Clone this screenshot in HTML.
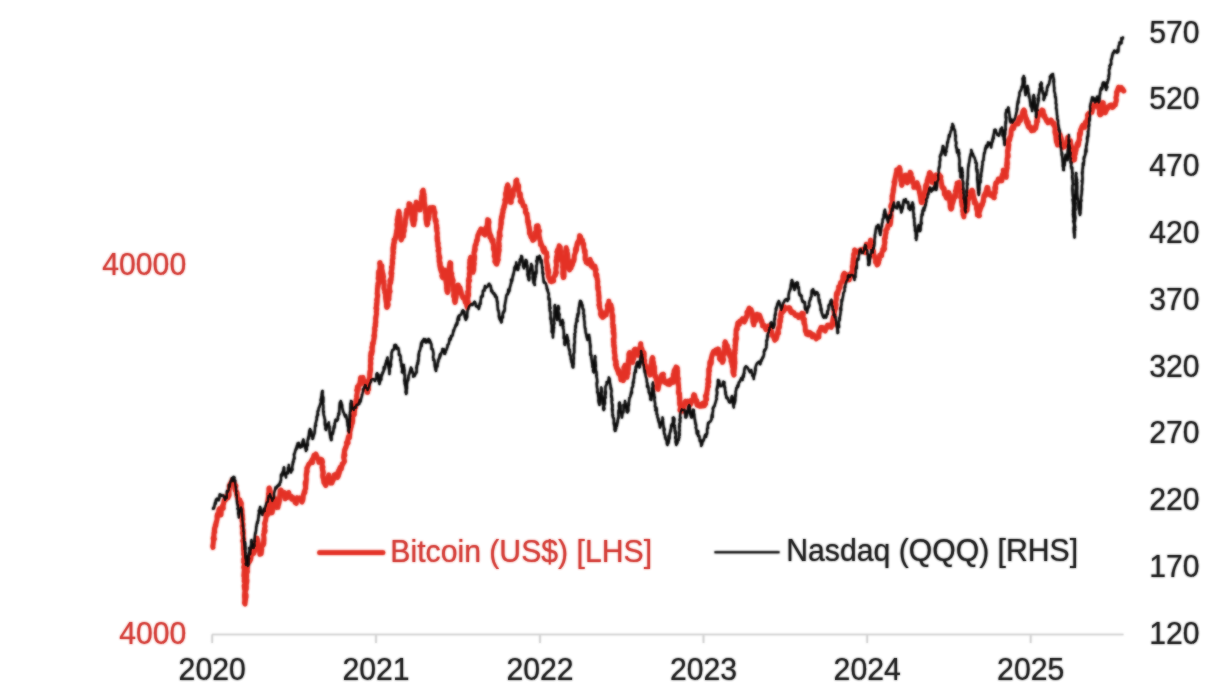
<!DOCTYPE html>
<html><head><meta charset="utf-8"><title>Bitcoin vs Nasdaq</title>
<style>
html,body{margin:0;padding:0;background:#fff;}
body{width:1232px;height:694px;overflow:hidden;font-family:"Liberation Sans",sans-serif;}
svg{display:block;}
text{font-family:"Liberation Sans",sans-serif;font-size:30.2px;}
</style></head><body>
<svg width="1232" height="694" viewBox="0 0 1232 694">
<defs>
<filter id="b" x="-2%" y="-2%" width="104%" height="104%"><feGaussianBlur stdDeviation="0.8"/></filter>
<g id="ln">
<g stroke="#d2d2d2" stroke-width="1.7" fill="none">
<line x1="212" y1="634.5" x2="1123.5" y2="634.5"/>
<line x1="212.2" y1="634.5" x2="212.2" y2="643"/>
<line x1="376" y1="634.5" x2="376" y2="643"/>
<line x1="540" y1="634.5" x2="540" y2="643"/>
<line x1="703.5" y1="634.5" x2="703.5" y2="643"/>
<line x1="867.2" y1="634.5" x2="867.2" y2="643"/>
<line x1="1030.7" y1="634.5" x2="1030.7" y2="643"/>
</g>
<polyline fill="none" stroke="#e43125" stroke-width="4.7" stroke-linejoin="round" stroke-linecap="round" points="213.0,547.5 212.7,546.0 212.7,545.9 213.1,544.8 213.4,541.3 213.4,539.4 213.1,538.3 214.1,539.4 213.5,537.1 214.4,538.8 213.9,538.0 213.6,539.4 214.0,538.2 213.9,532.9 214.8,532.1 214.6,530.4 214.5,531.8 214.2,530.8 214.5,528.0 214.8,528.8 215.0,527.5 215.3,526.0 215.2,525.1 215.9,525.7 216.0,522.3 216.5,522.3 216.1,522.7 216.1,523.4 217.1,519.4 217.0,516.2 217.4,514.1 217.5,517.1 217.4,517.5 218.0,515.6 218.0,513.7 218.8,513.5 218.7,511.2 218.8,510.0 219.4,508.8 220.2,512.4 219.9,515.0 220.7,513.8 221.0,515.0 221.2,512.4 221.0,511.0 222.0,508.9 221.6,508.0 222.6,508.6 222.3,506.0 223.0,507.5 223.3,508.5 223.0,504.7 223.7,503.8 223.1,504.9 223.8,502.5 224.1,500.6 225.0,499.0 225.4,500.2 226.2,496.3 227.0,497.3 227.5,497.5 228.0,497.8 228.2,495.8 227.8,495.5 228.9,495.9 229.2,495.0 229.0,491.2 229.5,487.9 229.2,486.1 229.5,485.8 229.7,485.8 230.1,483.7 230.6,483.4 231.0,484.0 232.1,479.9 232.0,482.5 232.9,480.3 233.8,481.0 233.6,481.5 234.8,484.3 234.4,484.2 234.2,482.8 234.7,484.7 234.8,488.8 235.9,485.7 235.2,488.9 235.3,490.5 236.6,491.5 236.6,494.5 236.4,492.4 237.1,492.6 237.4,495.3 236.9,495.9 237.5,497.5 238.6,499.6 239.0,501.6 239.5,502.4 239.9,499.7 239.9,500.8 241.0,502.5 240.8,502.1 241.4,503.3 241.2,507.2 241.9,509.1 241.2,510.7 241.1,507.5 241.2,507.5 242.1,510.8 241.7,513.6 242.1,513.8 242.0,511.3 242.2,516.5 241.9,517.4 242.4,515.0 242.5,516.2 242.1,520.6 242.8,519.4 242.0,521.3 242.0,520.6 242.5,522.5 242.9,524.3 243.0,523.7 242.8,526.9 242.7,526.3 242.1,526.0 242.9,530.3 243.3,530.1 243.3,530.4 242.5,533.4 242.7,531.5 243.0,531.9 242.9,532.9 243.5,533.2 243.0,535.3 243.6,537.9 243.6,538.3 243.2,539.7 242.7,540.9 242.9,541.4 243.7,539.8 243.3,541.3 243.5,545.6 243.5,545.0 243.8,547.0 243.6,545.5 243.3,546.9 243.6,551.1 243.9,551.5 243.6,554.2 243.7,553.9 244.0,554.2 243.8,554.8 244.3,555.8 244.3,557.6 243.6,559.3 244.5,559.4 244.0,560.0 243.6,561.9 244.0,561.2 243.8,561.5 244.3,562.2 244.6,565.7 244.4,564.7 243.7,567.4 244.7,569.9 244.7,568.0 244.2,569.2 244.6,573.6 244.2,570.6 244.1,572.8 244.1,572.2 243.8,575.9 244.3,576.5 244.2,574.3 244.4,578.2 245.0,576.5 245.0,581.2 244.2,578.9 244.8,578.9 244.1,581.0 245.0,583.1 244.3,586.7 245.1,584.3 244.8,587.1 244.1,585.6 244.6,589.6 245.2,587.6 245.1,591.3 245.1,589.6 245.2,590.0 244.6,593.2 245.3,595.1 244.4,594.9 244.5,596.9 244.5,596.4 244.5,597.0 244.7,599.0 244.7,601.6 244.6,602.1 244.4,602.7 245.0,604.0 244.5,602.2 245.2,602.6 245.2,599.8 244.8,602.0 245.3,601.3 245.8,598.4 245.5,596.5 246.1,597.0 246.0,594.3 245.8,595.1 245.6,592.7 245.4,589.3 246.2,587.9 245.6,587.9 246.4,586.5 246.3,589.2 245.9,586.4 246.2,585.3 246.3,585.0 246.3,582.9 246.9,581.9 246.5,583.6 247.0,580.2 246.4,578.8 246.5,575.8 246.7,577.2 246.7,575.1 246.5,572.7 246.7,571.9 246.3,570.7 246.6,571.2 247.0,572.1 247.2,572.5 247.5,571.6 246.9,568.7 246.8,570.8 247.4,568.7 247.7,564.2 247.5,566.2 247.8,565.0 247.5,562.2 247.5,562.0 248.6,560.9 249.3,562.1 250.1,560.4 250.5,559.9 251.0,558.0 251.0,556.0 251.8,553.6 252.9,552.2 253.1,553.8 253.7,553.5 254.0,552.0 253.6,551.0 254.7,551.3 254.7,549.3 254.4,549.0 254.8,548.6 255.0,543.8 255.2,545.9 256.3,545.6 255.8,543.3 256.4,541.9 256.5,542.4 256.1,540.8 256.5,538.0 257.0,538.0 257.0,539.5 256.8,540.4 257.3,539.0 257.9,542.5 257.6,544.1 258.0,544.3 257.8,544.9 258.1,548.3 259.1,550.3 258.7,545.8 259.5,550.4 258.8,550.0 259.8,549.6 259.5,550.6 259.7,551.7 259.8,554.0 259.8,554.4 260.6,554.1 261.2,553.7 261.8,549.0 261.2,548.7 262.1,545.0 262.3,546.2 262.7,544.6 263.3,545.0 263.8,543.3 263.8,541.2 263.1,542.9 263.9,543.1 263.5,542.5 263.7,538.8 264.0,540.9 263.9,536.8 263.5,534.6 264.5,532.4 264.7,532.2 264.0,531.2 264.0,531.7 265.0,530.2 264.9,532.1 265.1,530.2 264.8,530.8 264.3,528.8 264.8,527.5 265.1,526.4 264.5,523.4 264.7,524.3 265.0,522.1 265.3,521.0 265.8,519.3 265.4,521.2 265.7,519.4 266.0,517.6 266.0,514.2 267.0,512.9 266.4,513.6 267.6,515.0 266.8,512.1 267.4,511.0 267.0,509.2 267.1,508.3 267.4,506.8 268.2,507.0 267.7,507.3 267.9,504.8 267.8,503.2 267.8,500.3 267.8,504.2 268.4,501.5 268.0,502.2 268.2,498.1 268.5,497.2 269.0,499.5 268.2,498.7 269.0,492.8 268.8,495.9 268.4,493.8 269.5,491.6 269.5,492.2 268.9,491.8 268.9,488.2 269.4,488.0 269.7,488.9 269.8,491.4 270.0,491.9 269.8,492.0 270.1,490.7 270.4,492.0 269.8,495.4 269.8,493.9 270.4,497.4 269.7,495.8 270.4,498.7 270.1,499.3 269.9,501.5 270.5,500.9 270.8,505.5 270.7,506.8 270.5,504.0 271.1,508.5 270.4,506.4 271.3,507.9 270.9,508.6 271.7,510.6 270.8,510.2 271.3,511.4 271.5,513.0 271.4,512.4 272.3,512.4 272.0,510.4 272.4,511.8 272.5,510.5 273.4,505.9 273.9,504.6 273.3,504.7 273.8,502.3 274.7,503.6 274.3,500.6 275.3,499.9 275.0,500.0 274.9,499.3 275.6,498.9 276.6,504.5 277.1,505.5 276.7,507.6 277.8,504.4 277.1,507.4 278.0,507.5 278.0,507.1 278.2,505.1 278.0,502.8 278.5,501.8 278.4,504.7 278.7,504.5 279.6,500.1 279.3,501.1 279.6,496.0 280.2,496.0 279.8,494.1 279.6,497.1 280.7,494.0 279.9,494.3 280.1,490.5 280.5,492.0 281.0,490.0 282.0,492.2 281.7,491.3 282.6,495.4 283.2,492.9 283.2,493.4 284.3,492.5 284.7,497.8 285.0,497.5 285.1,498.9 286.2,494.9 287.4,497.5 287.2,494.0 288.1,493.0 288.8,492.5 289.0,494.8 290.2,496.1 290.8,497.6 290.8,497.2 291.4,496.2 291.7,499.4 293.0,497.4 292.8,498.0 293.9,498.2 295.0,500.6 295.0,502.5 296.3,503.4 296.0,500.1 297.2,497.8 297.9,500.3 298.8,499.0 299.6,498.1 300.8,500.4 302.0,502.0 302.5,501.0 302.3,500.7 302.7,500.8 303.0,498.8 303.1,498.6 303.3,494.8 304.3,492.7 303.9,494.0 304.9,492.4 304.2,491.9 304.9,492.0 305.0,490.0 304.7,490.5 305.6,488.2 305.8,488.4 305.2,484.1 305.2,482.4 305.8,486.1 305.6,485.8 305.9,484.6 306.3,479.9 305.7,482.2 306.4,479.8 306.2,476.3 306.1,474.3 306.7,473.8 306.4,475.2 306.6,470.9 306.6,473.1 306.7,470.8 307.2,471.6 306.8,468.2 307.4,468.0 307.5,467.5 307.6,467.1 308.9,464.0 309.0,464.1 310.4,462.9 310.5,462.3 311.0,462.5 311.4,460.8 312.6,462.5 312.2,459.3 312.7,460.0 314.0,455.2 314.4,455.9 314.9,455.4 315.0,455.0 315.1,455.7 316.0,454.0 316.9,458.1 317.0,456.4 317.3,458.5 317.6,458.4 318.8,461.3 318.8,462.5 319.6,459.6 320.9,462.6 320.8,459.1 322.0,460.0 322.6,462.1 321.6,462.3 322.1,464.9 322.5,466.4 322.0,467.4 322.2,468.3 323.0,467.0 322.3,470.1 322.6,467.9 322.7,470.1 322.6,469.0 323.4,473.1 323.1,470.8 322.6,475.3 322.8,477.5 323.3,477.4 323.1,478.3 323.5,478.2 323.7,479.1 323.5,480.2 323.8,480.1 323.8,482.5 324.2,482.7 325.6,485.6 326.0,485.0 325.9,484.0 326.1,482.9 326.7,479.8 327.0,478.2 326.8,479.5 327.2,479.7 328.2,479.5 327.7,477.3 328.3,476.1 328.8,475.0 328.7,478.0 330.0,479.8 330.1,480.1 330.6,477.9 330.9,480.0 330.3,483.1 331.0,482.5 332.0,483.0 331.8,478.6 332.1,480.8 332.7,481.3 333.1,480.2 334.5,477.3 334.2,474.9 335.0,475.0 335.6,475.5 336.3,473.9 337.5,477.5 338.3,475.0 338.5,476.0 338.6,472.7 338.5,470.9 338.6,472.8 339.1,473.8 339.7,471.4 340.1,467.7 339.6,468.7 340.0,467.5 340.4,468.1 341.3,469.1 342.2,464.8 342.1,463.8 342.6,464.4 343.8,462.5 343.6,462.7 344.5,461.4 344.3,460.1 343.6,457.4 343.9,454.4 344.3,456.3 344.9,455.3 344.3,452.0 344.1,453.6 344.6,449.9 344.7,449.4 345.0,450.0 345.5,447.4 345.4,447.9 346.0,447.5 346.9,443.7 346.4,442.7 347.3,441.6 347.5,442.5 348.1,442.9 347.7,440.2 348.4,436.6 348.3,438.3 348.8,437.5 348.9,437.0 349.5,437.8 349.9,433.6 349.7,430.6 349.6,431.4 350.4,428.7 350.4,427.1 350.1,431.1 350.9,427.7 351.0,427.5 351.4,426.3 351.1,426.8 351.5,423.6 352.4,420.5 352.4,423.4 352.8,418.6 352.6,421.1 352.8,420.8 352.6,416.9 352.8,415.7 353.8,415.3 353.8,415.0 354.3,414.5 353.8,414.0 354.1,412.5 354.4,412.8 354.7,409.0 354.3,411.5 354.2,410.7 354.6,406.1 355.6,407.3 355.1,406.7 355.2,406.6 356.0,402.1 355.9,402.4 356.4,401.6 356.0,400.0 356.6,399.0 356.8,398.8 356.8,396.9 356.5,396.4 357.1,393.4 357.6,391.2 356.7,390.3 358.0,389.2 357.2,389.5 357.3,386.9 358.2,389.5 358.5,389.1 358.5,385.4 358.9,385.3 358.8,385.0 359.7,385.1 360.1,381.0 360.7,384.2 360.3,379.3 360.6,377.6 361.9,380.9 362.4,379.2 362.5,377.5 362.8,379.3 363.0,377.3 363.7,381.6 364.4,380.8 365.0,382.5 365.0,381.7 365.7,382.9 365.5,384.3 366.0,389.0 366.4,390.1 366.4,386.3 367.1,388.7 367.2,389.6 366.9,391.5 367.5,392.5 367.2,392.5 367.4,391.9 367.6,387.5 368.6,389.4 368.2,384.6 368.7,385.7 368.5,383.3 369.1,383.0 369.3,381.6 368.6,380.6 369.1,382.0 369.4,378.0 369.7,376.4 369.9,378.5 369.5,377.6 369.7,375.8 370.0,375.0 369.6,375.1 369.6,374.6 369.9,371.1 370.2,372.8 370.7,369.7 370.3,367.4 370.6,367.9 370.6,368.5 370.3,365.4 370.9,362.9 370.8,364.5 370.5,361.2 370.7,363.2 370.7,359.0 370.4,361.8 370.6,357.8 371.2,358.7 370.5,355.9 370.8,355.1 371.0,355.0 370.8,353.9 371.0,352.3 371.8,354.2 372.3,349.2 371.8,347.3 372.4,351.3 372.2,349.8 372.6,345.6 372.3,343.4 372.3,343.8 373.4,343.2 373.2,343.8 373.3,342.7 373.7,340.0 373.8,340.0 374.1,338.6 373.8,339.2 374.3,337.5 373.8,335.8 374.6,336.0 374.5,335.7 374.6,335.4 374.4,333.3 374.7,330.2 374.6,327.5 375.0,330.2 374.5,329.0 374.9,326.7 374.9,326.7 375.6,326.2 375.4,322.4 375.1,324.3 375.9,322.2 375.5,318.3 375.9,317.5 375.6,321.0 375.8,316.3 376.1,316.9 376.1,316.0 376.0,316.2 376.6,313.9 376.4,312.2 376.2,312.0 376.6,310.6 376.9,308.7 375.9,308.2 376.4,306.9 376.5,304.4 376.9,305.0 376.4,303.9 377.0,302.2 376.9,305.2 377.2,300.8 376.6,300.1 377.3,297.6 377.2,300.4 377.2,298.1 377.8,295.4 377.4,294.8 377.7,296.6 377.2,294.1 377.1,293.3 377.4,294.0 377.3,293.2 377.4,289.8 377.4,288.7 378.1,286.1 377.6,286.0 377.9,285.3 378.0,285.0 378.2,283.6 378.0,283.4 378.7,283.8 378.7,279.2 378.8,281.7 378.9,277.1 378.1,278.3 379.2,274.0 378.5,276.2 378.5,272.5 379.3,271.7 378.7,271.4 379.5,273.8 379.7,269.1 379.7,270.0 379.9,269.7 379.9,269.4 379.9,265.5 380.0,265.5 380.3,264.3 379.6,263.6 380.0,262.5 379.8,262.6 380.0,264.2 380.3,265.2 381.0,266.4 381.7,267.7 381.9,265.6 381.8,268.7 382.4,271.2 382.2,271.2 382.5,272.5 382.1,274.8 382.9,275.4 383.0,273.6 383.5,277.2 383.6,276.8 383.2,278.6 382.8,282.0 383.6,282.5 384.0,281.2 383.6,281.9 384.1,283.8 383.8,283.1 384.1,285.1 383.9,288.3 384.2,289.4 384.1,289.2 384.5,290.0 385.2,291.1 385.1,292.7 384.7,292.4 385.2,292.9 385.6,295.7 385.6,293.6 385.6,299.0 385.4,295.9 385.5,295.9 386.1,302.1 386.5,302.6 386.4,305.0 386.6,304.5 386.7,305.5 386.4,306.3 386.8,307.1 387.0,307.5 386.7,307.4 386.8,304.5 388.0,305.6 387.5,304.7 388.2,304.6 387.7,302.3 388.1,299.5 388.3,298.2 389.0,299.1 388.7,295.0 388.4,293.3 389.1,296.5 389.1,296.3 389.2,292.3 389.5,292.5 390.1,291.5 389.7,292.3 389.4,289.5 389.6,289.2 389.5,285.5 390.3,283.0 390.8,282.4 390.7,281.3 389.9,280.5 390.2,282.9 390.3,282.7 391.1,277.8 391.2,279.9 390.5,279.3 391.3,277.7 391.6,276.0 391.2,275.0 391.9,273.4 390.8,273.5 391.7,270.4 391.1,271.8 391.9,269.3 392.1,267.2 391.3,267.4 392.0,266.0 392.2,265.3 392.4,262.6 392.3,262.6 392.1,263.3 392.6,261.2 392.7,263.3 392.2,260.7 393.0,256.3 393.0,258.4 392.8,255.9 393.1,258.3 392.6,255.8 393.3,253.5 393.2,251.9 393.5,252.1 392.9,252.5 392.9,247.3 393.4,247.8 393.8,248.8 393.8,245.0 393.9,246.3 393.3,244.9 394.0,244.5 393.8,242.5 394.6,242.5 394.0,239.8 395.2,239.5 395.5,236.5 395.2,239.3 396.1,236.8 396.2,235.0 396.0,234.0 396.7,232.2 396.5,232.9 397.0,229.4 396.5,231.0 397.3,229.7 397.0,230.4 397.2,227.3 396.8,224.2 397.5,222.8 397.5,222.7 397.5,222.2 397.1,219.8 397.6,223.5 398.0,218.2 397.5,220.3 397.8,218.8 397.6,217.3 398.8,213.7 398.3,216.2 398.2,214.5 398.5,214.0 399.0,213.4 398.8,211.0 399.4,213.1 398.4,212.5 398.6,212.8 398.6,213.0 399.6,215.8 399.8,216.7 398.9,220.2 399.3,220.0 400.1,218.0 399.7,219.2 400.2,222.5 399.7,224.1 399.5,223.9 400.5,227.7 399.5,224.9 400.0,225.3 400.7,230.0 399.8,231.4 400.6,232.2 401.0,232.3 400.2,229.6 401.2,234.0 400.5,235.1 401.1,235.6 400.7,234.5 400.6,235.9 400.7,237.7 400.8,238.3 401.2,240.0 401.0,239.4 401.6,239.3 402.8,234.3 403.2,233.6 403.5,236.4 403.3,232.3 403.8,232.5 404.4,230.2 404.2,231.3 404.0,229.4 404.3,229.9 404.1,228.4 404.1,225.0 404.8,226.3 405.4,222.4 405.0,221.5 405.0,219.9 405.2,222.8 405.5,218.6 406.1,217.8 406.4,215.6 406.4,214.0 405.8,216.5 406.0,215.1 406.1,212.9 407.1,212.3 407.2,213.6 406.6,210.2 407.0,210.0 407.0,210.5 407.8,209.7 407.9,210.2 408.8,208.4 408.9,203.7 410.0,204.0 410.2,205.8 410.3,205.1 410.2,208.5 410.3,208.7 411.2,207.4 410.7,210.9 410.8,208.7 411.4,212.2 411.3,211.7 412.0,214.4 412.1,216.9 411.6,214.6 412.2,218.1 412.0,219.5 412.5,221.1 413.3,222.3 412.5,221.4 413.2,223.8 413.1,224.6 414.0,223.4 413.8,225.0 413.5,223.5 414.1,222.4 414.1,219.8 414.2,220.2 414.6,217.7 414.9,220.2 414.8,217.1 414.9,216.0 415.2,213.0 414.9,216.9 415.0,214.3 414.6,213.0 414.9,214.5 414.9,209.4 415.8,207.9 415.1,205.5 415.3,208.1 415.9,204.4 415.9,205.5 415.6,205.2 416.4,204.6 416.2,202.5 416.2,202.0 417.1,203.9 417.0,203.9 417.5,205.4 418.7,207.6 418.8,206.2 418.7,209.8 419.5,210.0 420.2,210.0 419.8,207.9 420.1,208.4 420.8,205.8 420.3,206.5 420.4,202.8 421.4,202.4 421.5,203.7 421.6,203.2 421.4,197.8 422.1,201.3 421.7,197.0 421.8,197.6 421.6,196.3 422.3,194.7 422.1,191.5 423.0,194.6 423.0,193.8 423.5,192.2 423.2,190.0 422.8,192.4 423.2,192.9 423.3,194.1 424.1,194.6 423.5,196.0 423.8,196.5 423.7,199.9 424.2,197.6 424.3,196.9 424.3,202.5 424.3,200.4 424.1,202.4 424.2,201.3 424.6,203.1 424.5,204.4 425.0,205.1 425.0,207.5 425.2,209.3 425.4,210.0 425.6,209.3 425.5,211.1 425.6,213.2 425.4,212.7 425.8,212.9 426.0,214.7 425.9,213.7 425.9,219.3 426.3,219.5 427.0,218.7 426.8,219.5 426.1,220.1 426.7,224.1 426.8,222.9 427.0,225.0 427.4,223.6 427.0,221.4 427.8,223.7 427.5,219.4 428.1,218.7 428.5,219.3 428.3,219.8 428.7,218.6 428.6,217.6 429.0,216.8 428.5,216.5 428.5,215.4 429.4,213.6 430.0,210.9 429.6,209.9 430.3,209.4 430.0,207.5 431.1,208.5 432.5,207.4 433.8,207.5 433.7,209.3 434.1,209.3 434.0,209.9 434.8,213.2 434.5,213.0 434.5,212.0 435.0,212.3 434.6,215.8 435.0,219.3 435.8,219.8 435.2,220.7 435.8,220.0 436.3,221.1 435.4,220.4 436.0,222.9 436.4,225.8 436.8,225.6 436.3,226.2 436.3,228.1 436.6,227.4 437.1,228.0 436.7,230.8 436.6,228.8 436.9,231.0 437.4,233.2 437.0,236.8 437.2,235.2 437.0,239.0 437.6,237.8 437.2,236.2 437.8,241.3 437.1,240.5 437.9,242.8 438.3,243.5 437.7,244.5 437.7,243.3 438.0,245.0 438.1,245.9 437.8,245.9 438.4,248.3 439.0,248.3 438.0,250.6 438.9,250.6 438.9,250.8 438.6,249.8 439.0,255.4 438.7,256.3 439.2,256.2 439.4,255.7 439.9,257.9 439.3,259.4 439.1,257.9 439.1,261.9 439.3,260.5 440.2,262.8 440.3,264.3 440.0,265.0 439.6,264.7 440.2,267.9 440.5,269.6 440.6,267.5 441.5,267.5 441.1,271.2 441.3,272.0 442.1,270.7 442.4,274.3 442.2,275.1 441.8,275.6 442.5,277.5 443.3,278.0 443.7,274.7 443.3,276.0 444.5,274.2 444.8,272.3 444.5,270.0 445.0,270.0 444.8,271.5 445.7,271.5 445.7,272.9 445.1,272.8 445.2,274.1 445.4,278.7 445.4,278.0 445.8,278.6 445.5,278.7 446.5,277.9 446.0,279.9 446.1,280.2 445.9,281.3 446.4,284.9 446.9,283.4 446.6,283.6 446.5,288.7 447.4,288.4 446.8,290.7 447.5,290.2 447.9,291.1 447.5,292.5 448.1,290.7 447.4,290.3 447.3,289.3 447.6,289.3 448.0,289.5 447.7,286.3 447.8,286.0 447.7,286.8 448.3,284.0 448.6,281.3 448.6,280.6 448.3,280.7 448.1,278.9 449.1,276.5 448.9,276.0 448.9,273.9 448.9,274.2 448.5,273.0 448.8,272.1 449.4,270.0 449.1,269.7 449.6,272.6 449.8,272.0 449.2,267.1 449.8,265.1 449.5,266.7 449.9,265.2 449.5,265.1 449.7,264.5 450.0,262.5 449.8,264.1 450.8,263.3 450.7,266.4 450.1,264.3 450.4,265.2 450.7,267.0 450.8,266.7 450.8,270.9 451.4,273.8 451.2,274.5 451.8,273.8 451.2,274.0 452.2,277.6 451.5,276.2 452.3,279.2 452.1,277.8 452.5,280.0 452.9,279.7 453.2,280.7 452.4,283.8 452.8,285.2 453.4,286.7 452.7,285.2 453.2,289.6 453.6,291.2 453.9,291.2 453.6,291.4 454.0,288.9 453.9,291.4 453.5,295.6 453.6,296.3 454.6,296.9 454.4,295.3 454.6,299.7 454.3,299.0 454.5,297.7 454.4,299.9 454.5,300.9 455.0,302.5 455.3,301.9 455.0,299.6 455.4,299.3 455.4,300.8 456.2,296.7 456.0,294.1 456.4,293.9 456.5,294.3 456.5,291.3 456.4,292.4 457.0,292.8 456.5,288.2 456.6,288.0 456.8,285.8 457.4,285.5 456.9,285.6 457.5,285.0 457.9,285.1 458.1,285.9 458.3,285.1 459.7,291.1 460.1,287.7 460.4,293.0 460.8,290.4 461.2,292.5 461.4,292.9 461.6,294.5 462.8,297.8 463.6,297.5 463.3,298.3 463.6,296.9 464.8,297.1 465.0,300.0 465.1,302.1 465.9,300.6 466.6,304.9 466.8,302.7 467.1,307.0 466.8,305.9 467.5,307.5 467.3,307.3 467.7,305.3 468.0,303.9 467.2,302.2 467.9,302.5 468.0,303.3 468.4,303.3 467.9,300.0 467.7,296.6 467.5,297.6 467.7,297.6 468.6,295.4 467.6,292.1 467.8,292.7 467.7,293.6 468.7,293.7 468.3,292.6 468.6,288.7 468.4,288.4 468.4,286.7 468.9,287.1 468.2,287.1 468.6,284.1 468.5,283.6 468.8,282.5 468.3,280.7 468.8,279.7 469.4,281.1 469.6,280.5 469.2,280.3 468.7,278.9 469.4,277.0 469.4,273.6 469.4,276.0 469.2,273.9 470.0,270.9 469.2,267.6 469.6,270.0 469.9,266.2 469.9,266.3 469.9,265.8 469.8,265.7 469.6,262.3 470.1,265.3 470.6,260.9 469.8,260.1 470.0,260.4 470.4,259.4 470.5,257.8 470.5,257.5 470.7,257.2 470.4,259.5 470.5,260.0 471.6,261.0 471.6,262.7 471.1,265.1 471.9,267.7 472.2,263.8 471.6,265.5 472.2,270.0 471.9,270.6 472.0,271.2 472.5,269.7 472.9,269.9 473.0,272.5 472.8,270.5 473.1,270.9 473.4,271.1 473.4,270.5 473.8,270.0 473.8,265.2 473.9,264.3 474.0,265.3 473.6,261.4 474.3,263.5 473.4,263.0 473.5,261.4 474.4,260.0 474.6,256.3 473.9,258.1 474.2,254.8 474.5,257.2 473.9,252.6 474.9,251.0 474.7,250.5 474.9,250.2 474.4,249.8 474.9,250.6 475.3,249.2 475.0,247.5 474.7,248.3 475.1,245.2 476.2,244.4 475.5,245.3 476.6,241.0 476.4,242.3 476.4,240.5 476.9,241.2 477.4,240.1 477.5,237.5 477.8,235.3 478.9,233.6 478.4,234.8 479.2,231.8 479.9,232.2 480.1,231.1 480.9,228.9 481.2,230.0 481.3,229.6 483.1,231.1 482.7,229.7 483.5,233.8 484.4,233.2 485.0,235.0 485.3,233.1 485.9,232.9 485.1,234.4 486.1,231.9 486.3,232.4 486.4,230.3 486.1,227.4 487.0,228.6 487.0,228.9 487.3,224.4 487.2,225.3 487.2,223.9 487.5,222.3 487.6,219.7 488.0,220.0 488.7,220.3 488.1,221.8 488.0,221.8 488.1,223.0 489.0,222.0 488.6,225.3 488.6,227.4 488.4,226.3 488.8,227.7 489.2,231.3 489.1,234.1 489.5,235.4 489.2,231.6 490.2,234.5 490.1,234.9 490.3,236.2 490.0,237.5 491.0,235.7 491.7,241.0 493.0,240.0 492.6,240.5 493.0,240.8 493.0,243.6 493.1,243.7 494.0,245.6 493.3,247.1 494.3,248.7 493.4,249.1 494.5,251.2 493.7,249.7 494.3,249.3 494.5,254.1 494.1,256.1 494.9,253.9 494.6,256.1 494.6,257.6 494.8,255.2 495.2,255.9 495.2,258.3 495.0,260.6 494.8,261.4 495.5,262.5 496.4,264.1 496.7,264.2 498.0,260.0 498.3,259.6 497.7,257.6 497.8,255.7 497.8,256.8 498.2,256.6 498.5,254.5 498.6,253.4 498.3,252.7 498.3,252.6 499.0,251.6 498.5,250.9 499.3,250.0 498.6,247.1 499.4,246.2 498.4,242.9 499.2,243.4 499.0,244.5 498.9,245.2 498.8,243.1 498.9,237.7 499.4,235.9 499.1,237.7 499.4,239.4 499.2,234.7 500.2,235.8 499.2,232.8 499.5,233.8 499.9,233.6 499.8,231.6 500.0,230.0 500.1,230.0 500.8,227.5 500.7,225.0 500.8,223.0 501.2,223.7 501.0,221.0 501.5,221.7 501.3,224.2 501.0,219.6 501.4,218.1 501.3,216.8 501.9,218.8 502.5,215.7 502.1,214.1 502.6,213.0 502.1,214.4 502.5,212.5 503.1,212.6 502.8,209.7 503.7,209.2 503.7,206.5 503.7,207.7 504.4,207.0 504.7,203.9 504.8,203.5 504.4,204.6 505.0,202.5 505.7,202.7 504.7,200.0 506.0,197.5 506.1,195.2 506.0,194.6 505.5,193.4 505.6,195.8 506.7,193.4 506.8,194.3 505.9,195.3 507.0,190.2 506.2,191.1 506.6,189.3 506.6,187.8 507.8,185.2 507.8,185.2 507.5,185.0 507.7,184.8 507.8,185.3 508.2,186.2 508.5,186.7 507.9,189.6 508.6,190.2 508.6,194.5 509.4,192.0 509.4,196.3 508.9,194.4 508.9,194.8 509.6,194.3 509.9,197.3 509.4,198.6 510.3,201.0 510.4,201.7 510.5,202.5 511.3,202.1 511.3,202.3 511.1,199.3 512.1,197.8 511.7,196.5 511.7,195.6 511.8,198.0 513.2,195.4 513.1,191.9 512.9,191.3 513.0,189.9 513.8,190.0 514.4,190.0 513.8,190.3 514.4,188.7 515.0,187.2 515.8,184.2 515.8,180.9 515.9,184.5 516.7,182.7 516.6,180.2 516.8,180.0 516.8,181.7 517.0,183.2 517.5,183.6 517.4,185.3 517.8,186.2 518.1,184.8 518.7,185.6 518.7,187.8 518.6,189.4 518.4,189.2 519.1,192.7 519.2,192.5 519.5,193.8 519.4,196.2 520.4,194.0 520.4,196.0 521.0,199.3 520.2,201.0 521.4,199.3 520.8,202.1 521.2,200.5 521.8,202.5 522.2,201.2 523.1,205.8 523.2,205.5 524.9,206.0 525.0,207.5 525.2,209.1 525.8,209.6 525.3,212.0 525.8,212.9 525.9,212.9 526.3,212.8 526.2,213.7 527.1,213.9 526.9,214.7 527.5,217.5 527.4,218.9 527.6,219.0 527.6,222.0 528.6,222.7 528.3,221.1 528.7,225.1 528.2,224.2 528.8,225.3 528.9,227.9 529.4,227.5 529.3,230.6 529.7,229.5 529.4,233.2 530.2,234.5 530.3,232.9 529.8,233.5 530.5,235.0 531.0,237.1 531.8,237.4 532.7,240.4 533.2,237.0 533.8,240.0 534.0,238.6 534.2,239.3 535.0,237.2 534.8,235.7 535.5,235.0 535.6,235.0 535.1,232.6 536.0,233.0 536.5,232.8 536.1,228.1 537.1,226.5 536.5,225.9 537.3,227.5 537.5,226.0 537.9,225.7 537.8,228.5 538.3,226.8 538.3,229.0 538.8,233.7 538.2,234.7 538.8,232.6 539.5,231.0 538.8,233.1 539.0,234.5 539.5,238.6 539.6,238.3 539.6,237.6 540.0,240.0 540.7,242.2 540.4,244.6 540.6,241.9 541.3,244.2 541.8,245.1 542.0,246.7 542.5,247.5 542.8,249.8 543.8,252.0 544.2,247.9 544.9,250.6 545.4,251.9 546.2,252.5 546.7,252.9 546.7,253.7 546.7,256.5 547.2,256.5 547.2,257.2 546.8,256.0 546.4,259.8 546.6,262.7 546.8,262.5 547.3,265.2 547.3,265.8 547.7,266.0 547.2,264.6 547.2,268.3 547.4,270.3 547.4,266.7 548.5,270.8 548.2,270.3 548.6,270.1 547.9,273.2 548.6,271.7 548.8,272.4 548.2,274.5 548.4,276.6 548.8,277.5 549.3,278.5 550.4,281.3 551.2,281.8 552.5,280.0 553.7,280.9 553.2,277.8 554.5,276.3 555.0,274.5 555.5,275.0 555.5,272.8 555.6,273.4 555.3,272.8 555.4,272.6 556.5,272.5 556.0,272.0 555.9,267.4 556.1,268.4 555.8,268.8 556.7,265.5 556.4,264.7 556.0,260.7 557.0,260.2 556.3,262.7 556.2,262.8 557.3,260.1 557.4,257.3 556.4,257.8 557.0,255.2 557.4,253.6 557.5,252.3 556.8,251.9 556.9,252.0 557.8,251.1 557.5,250.0 558.3,249.8 559.2,245.7 560.0,247.5 560.3,247.2 560.3,248.1 560.2,249.7 560.1,252.0 561.1,251.1 561.1,252.3 560.9,256.3 560.5,253.8 560.7,258.4 561.3,257.9 561.3,256.3 561.5,257.1 561.5,260.1 561.6,259.6 561.4,260.4 562.4,261.5 562.6,264.1 562.8,262.6 562.7,265.8 562.7,267.8 562.9,267.0 562.5,267.2 562.8,267.5 562.8,271.0 562.6,274.2 562.9,274.1 563.7,274.9 563.0,276.2 563.7,276.0 563.8,277.5 563.3,277.6 564.1,276.1 563.8,275.8 564.0,275.0 563.6,274.7 564.1,274.2 563.9,270.6 564.7,268.0 564.1,269.3 564.2,266.7 564.3,264.6 565.3,264.1 565.2,267.2 564.9,263.9 565.5,264.2 565.2,263.3 565.3,259.1 565.6,261.3 565.6,256.5 565.0,256.2 565.7,259.0 565.2,257.4 566.2,256.7 566.0,255.9 566.2,254.4 565.8,252.2 566.3,251.8 565.9,250.8 566.2,249.9 566.2,247.5 566.0,250.0 566.9,251.5 567.1,250.0 566.5,250.2 566.7,252.1 567.6,253.5 567.5,255.7 567.8,255.3 567.8,258.3 568.1,260.7 567.4,258.8 568.4,260.7 568.3,260.0 568.7,263.6 568.5,260.3 568.2,260.5 568.7,266.0 568.9,266.6 568.7,266.4 569.6,267.4 569.1,269.2 569.5,270.0 569.7,267.6 570.3,268.6 571.1,268.1 571.4,264.0 572.0,261.9 571.8,261.5 572.3,265.2 573.3,261.0 573.8,261.2 573.8,260.0 574.0,258.7 574.2,259.6 574.1,259.6 574.2,258.3 574.3,255.5 575.6,252.0 575.6,252.2 575.3,250.2 575.8,248.1 576.0,251.3 576.7,248.3 576.6,249.9 576.8,244.7 577.4,245.0 577.2,243.9 577.1,243.8 577.5,242.5 578.1,241.6 578.3,242.8 579.3,238.9 579.6,235.5 579.6,237.5 580.0,236.0 580.7,236.9 581.1,240.0 580.7,240.9 581.2,239.4 582.5,243.5 582.6,240.4 582.4,243.1 583.6,243.6 583.8,245.0 583.6,246.4 583.8,248.1 584.1,248.6 584.5,251.9 584.7,252.5 585.2,250.9 585.0,253.4 584.5,252.2 585.4,254.5 585.0,257.1 585.4,254.6 585.1,259.2 585.3,260.0 585.3,258.8 585.8,259.6 586.6,262.7 586.2,262.5 587.0,260.6 587.8,263.6 589.0,260.1 590.0,260.0 590.1,259.4 590.6,261.0 590.8,265.7 591.9,263.0 592.2,264.8 592.5,266.9 592.5,267.5 593.3,265.8 595.0,266.0 595.1,267.7 595.5,268.5 595.2,270.4 596.1,269.7 595.5,271.2 595.7,273.0 595.6,275.0 596.3,276.5 596.9,274.9 596.3,274.9 596.8,274.5 597.1,279.3 597.4,279.1 597.0,278.9 597.9,281.7 597.5,282.5 597.8,283.9 597.5,285.5 598.0,287.4 597.7,286.2 597.7,289.0 598.4,287.1 598.1,289.4 598.6,291.5 598.0,289.5 598.2,289.6 598.8,292.9 598.5,295.4 598.6,295.1 599.0,295.1 599.1,298.9 599.0,296.7 598.9,300.6 599.4,303.1 599.4,303.3 599.5,303.6 599.4,302.1 599.4,305.0 598.8,304.9 599.8,306.7 599.5,307.5 599.5,307.7 599.6,307.9 600.9,311.2 600.5,313.4 600.5,314.1 601.1,315.8 601.7,312.0 601.6,313.3 602.1,314.6 602.5,317.5 603.8,316.6 604.8,313.5 605.0,312.8 606.2,315.0 606.2,314.1 606.7,312.3 607.1,310.4 607.4,308.9 607.2,311.4 607.6,306.5 607.5,304.7 607.2,305.9 608.1,306.5 607.9,305.6 608.3,304.2 608.8,301.9 608.9,303.4 608.8,301.0 609.1,304.8 609.3,306.5 609.8,304.6 611.0,304.9 611.2,306.0 611.3,307.6 611.1,307.6 611.3,308.5 611.9,308.3 611.6,310.7 612.0,310.2 611.6,310.8 612.2,313.9 612.4,317.8 612.7,319.2 612.5,318.9 612.0,315.8 612.9,315.7 612.7,320.6 612.5,319.9 612.9,320.3 612.6,324.5 612.5,322.9 613.0,325.0 613.5,325.4 613.0,327.8 612.7,326.7 613.5,327.2 613.8,329.4 613.6,333.2 613.7,332.3 613.0,330.9 613.5,333.9 613.2,333.3 614.0,332.8 614.1,337.6 613.6,341.0 613.6,341.0 614.1,342.2 613.2,339.3 613.9,340.0 613.3,341.9 614.3,345.6 613.5,345.1 614.1,347.7 613.9,345.7 614.6,348.2 614.4,349.0 614.2,350.0 614.1,350.2 614.4,353.4 614.7,351.6 614.4,351.7 614.9,354.4 615.2,356.8 614.6,357.0 614.7,359.5 615.2,359.3 615.7,361.3 615.7,360.0 615.6,363.2 616.2,361.6 615.4,364.6 616.6,364.5 616.0,365.5 616.2,367.5 617.1,369.3 617.5,370.4 617.2,367.8 618.5,373.6 618.1,369.9 619.6,371.2 619.7,372.7 620.0,375.0 620.8,377.8 620.9,379.9 621.2,376.5 621.9,380.0 623.0,380.0 623.4,380.6 623.6,377.2 623.4,375.1 623.9,373.2 624.1,376.7 624.2,371.4 624.3,372.8 624.2,372.0 624.5,371.6 623.8,367.6 624.2,368.8 624.0,367.4 624.2,367.9 625.2,367.1 625.0,365.0 624.7,366.1 625.0,367.8 625.1,367.9 625.7,371.9 625.4,369.9 626.4,372.5 625.7,374.6 626.1,373.0 626.1,375.8 627.2,376.1 626.3,377.4 627.0,377.5 626.7,375.5 627.3,375.9 627.2,374.7 627.5,373.1 628.0,373.2 627.9,372.9 628.1,373.2 627.3,371.3 628.3,369.9 628.4,367.4 628.6,364.6 628.4,364.8 628.1,362.9 628.2,362.3 628.4,359.9 628.8,363.8 629.0,363.5 629.4,362.1 628.6,360.4 628.9,356.6 628.8,354.2 629.7,356.6 629.6,354.1 629.8,354.2 629.5,352.5 629.8,354.7 630.5,352.9 630.5,354.0 630.7,355.4 630.6,360.0 631.5,359.2 632.1,359.9 632.4,360.1 632.7,362.1 632.5,362.5 632.4,360.3 633.4,359.2 632.8,356.4 633.8,359.0 633.4,355.5 633.9,357.0 634.1,356.8 633.8,353.0 634.5,350.1 634.1,350.0 634.8,352.7 635.0,350.6 635.0,349.0 635.6,350.6 635.3,350.0 635.7,349.3 636.3,351.6 637.1,352.0 637.5,355.0 638.0,355.3 638.4,352.3 637.9,349.9 638.5,349.4 638.8,350.8 638.7,350.5 639.2,350.8 639.1,349.5 639.6,348.0 640.6,346.5 640.5,344.0 640.6,346.1 640.8,343.6 641.0,349.1 641.9,349.6 641.7,350.5 641.9,348.6 642.6,353.1 643.0,352.5 643.2,354.3 642.8,353.5 643.9,352.6 644.2,353.9 644.1,356.3 644.3,356.3 644.0,357.8 643.9,360.6 644.8,360.4 644.5,361.7 644.5,364.7 645.0,365.0 645.2,364.7 645.8,366.0 646.5,368.6 646.5,371.0 647.5,370.0 648.4,372.2 648.0,370.7 648.6,372.4 649.7,373.7 650.0,375.0 649.7,372.7 649.9,372.5 650.4,370.6 650.1,368.5 650.7,368.5 650.9,371.1 650.7,365.7 651.2,367.8 651.9,368.1 651.0,367.3 651.6,366.8 651.4,361.7 651.6,363.5 651.8,359.0 652.2,360.9 651.9,359.4 652.5,357.5 652.4,358.6 653.0,358.5 652.5,359.7 653.1,364.1 652.7,361.3 653.4,364.3 653.5,362.0 653.7,366.6 653.8,365.4 654.1,368.1 654.5,366.8 654.5,372.1 654.3,373.3 654.2,374.2 654.8,372.3 654.4,375.0 655.0,375.0 654.7,375.4 655.0,376.6 655.9,376.2 656.3,379.3 656.2,379.7 656.8,378.3 656.4,380.1 657.2,383.0 657.4,384.3 656.8,385.9 656.9,387.6 657.5,387.5 658.0,389.4 659.0,384.6 658.9,383.3 659.7,382.5 660.0,382.5 660.2,379.3 661.1,377.8 661.2,375.8 661.4,376.1 662.0,377.1 661.8,374.6 662.5,375.0 663.4,374.2 662.8,374.5 663.7,377.8 663.4,381.5 663.9,379.2 664.6,381.6 665.0,382.5 666.4,381.7 667.3,382.6 667.5,384.2 668.8,381.0 669.6,384.5 671.1,379.7 671.0,379.5 672.5,382.5 672.4,380.5 673.3,382.3 673.0,379.4 673.5,380.4 673.3,378.6 673.2,374.3 673.8,375.7 674.3,376.0 673.6,376.1 674.6,370.6 674.0,371.1 674.5,370.0 675.1,370.3 676.0,367.0 677.0,367.5 677.3,368.5 677.4,368.1 677.2,370.7 677.7,372.4 677.4,370.2 677.7,374.1 677.2,375.6 678.0,378.6 677.6,375.7 677.5,380.2 678.4,378.7 677.6,382.1 677.9,382.7 678.4,383.2 677.9,380.9 678.0,381.8 677.9,382.0 678.3,385.0 678.6,385.1 678.7,389.1 678.9,388.8 678.8,390.0 678.5,390.8 678.4,391.9 678.6,393.7 679.6,393.5 679.6,396.4 679.4,397.1 679.9,398.4 679.8,396.5 679.3,397.5 679.7,401.6 680.1,403.4 679.5,403.0 679.9,400.3 679.7,404.8 679.5,402.7 680.4,404.0 679.9,404.5 680.6,406.8 679.9,410.2 680.5,410.0 681.8,407.6 681.7,411.2 683.0,407.6 683.8,407.5 684.2,405.8 684.5,405.3 684.9,402.0 685.4,401.3 686.7,403.1 687.3,401.0 687.5,401.0 688.3,402.4 689.0,401.9 690.4,404.6 691.2,402.5 691.3,400.2 691.9,401.3 692.2,401.1 693.2,400.8 693.4,395.8 693.9,394.7 694.4,396.8 694.5,395.0 694.3,395.2 695.1,397.6 694.9,396.0 695.0,399.1 695.5,400.8 695.9,399.7 696.5,401.9 696.8,400.6 696.5,402.7 697.0,405.0 698.3,405.6 699.6,406.3 700.0,404.2 701.2,406.0 701.9,406.1 702.8,403.1 704.4,405.7 705.0,404.0 705.7,403.8 705.1,403.4 705.8,400.4 705.8,397.2 705.4,396.0 705.7,397.5 706.7,399.4 706.1,396.3 706.6,392.8 706.6,393.7 707.0,394.1 706.7,393.3 707.2,389.9 707.5,390.0 707.3,388.7 707.4,388.5 707.7,386.3 708.2,386.8 707.9,384.4 708.5,386.3 707.7,384.0 708.4,381.8 707.8,379.5 708.9,382.3 708.5,377.1 708.4,378.1 709.0,374.2 708.7,376.8 708.7,372.4 709.5,370.8 708.8,369.7 708.7,372.3 708.7,369.1 709.4,368.2 709.0,369.2 709.5,367.5 710.0,365.6 709.7,364.8 709.8,362.1 709.9,365.6 710.8,361.3 711.2,363.4 711.5,360.5 710.9,359.8 711.6,358.1 711.2,358.1 712.3,355.2 712.0,355.0 713.4,351.5 713.7,351.9 715.0,352.5 715.7,349.9 716.1,353.3 717.0,352.4 718.0,349.0 718.5,349.2 718.1,350.0 719.1,351.3 719.0,355.0 719.4,351.5 719.8,355.1 719.4,358.7 720.2,359.6 719.9,357.3 720.1,358.5 720.5,360.0 720.7,359.9 722.3,359.9 722.5,362.5 722.8,361.1 723.0,361.8 723.4,358.7 723.6,359.8 723.4,359.1 723.0,358.7 723.2,356.9 723.1,356.8 723.4,354.2 723.6,354.5 724.3,353.9 723.6,353.2 724.4,352.6 724.4,350.2 724.8,345.2 724.4,346.3 725.0,344.8 725.2,345.4 724.7,342.8 725.0,342.5 725.2,341.7 725.7,342.9 726.6,346.6 727.5,346.0 727.3,345.6 727.7,348.9 728.2,349.0 729.1,351.8 729.0,350.2 729.1,354.2 729.7,355.5 730.2,353.7 730.0,355.0 729.8,356.2 730.9,357.5 730.7,358.2 731.4,358.6 730.9,360.9 731.3,360.4 732.0,364.6 732.5,361.6 732.4,362.2 732.5,365.0 732.9,365.4 732.3,366.5 733.2,368.0 732.8,370.7 733.4,368.7 732.9,372.5 733.9,374.6 733.4,373.1 734.1,374.8 733.8,375.0 733.6,373.3 734.1,372.3 733.9,370.6 734.1,370.6 734.5,368.1 734.1,371.2 733.7,370.1 734.2,369.7 734.6,367.9 734.7,364.4 733.7,362.0 734.8,362.4 734.9,364.0 734.9,361.3 734.0,360.2 734.8,359.6 734.7,357.4 734.3,355.2 734.6,354.9 734.2,354.3 734.5,350.9 735.1,353.1 734.5,350.6 734.5,350.4 735.4,349.8 735.1,347.8 735.0,347.5 735.4,347.0 735.4,346.4 735.7,343.7 734.9,345.4 735.4,345.5 735.1,339.7 735.9,341.9 735.8,337.7 736.5,339.0 736.3,336.6 735.8,334.8 736.1,333.2 736.1,334.7 736.1,331.6 736.1,329.7 736.6,330.1 736.7,328.9 737.3,329.0 737.4,328.4 737.0,327.5 737.1,326.4 737.4,326.1 737.8,322.9 739.3,324.6 739.0,322.5 739.4,321.6 740.0,321.0 740.9,321.7 742.4,318.8 742.4,320.5 744.3,322.0 745.0,320.0 745.5,318.7 745.6,319.9 745.8,317.1 746.6,316.3 747.2,316.5 746.9,312.2 747.7,314.7 747.9,312.9 748.6,310.4 748.3,310.1 748.8,309.0 749.1,308.1 750.7,312.7 751.0,309.3 752.0,312.5 752.1,313.2 752.7,313.9 752.5,314.6 752.7,319.0 752.5,318.0 753.0,318.2 752.7,321.4 753.0,320.4 753.8,321.0 753.2,323.0 754.0,323.4 753.8,325.0 754.2,322.7 753.9,320.2 754.9,318.8 754.4,318.3 754.7,316.8 755.5,319.7 756.0,320.6 756.2,317.7 756.5,314.6 756.2,315.0 757.0,314.2 758.8,316.3 759.5,315.0 759.3,315.8 760.3,318.7 760.9,319.0 760.1,316.5 760.3,317.3 761.3,321.7 761.0,319.9 761.8,320.7 762.5,324.4 762.8,324.6 762.5,326.0 763.3,325.9 764.1,325.2 765.9,329.5 766.2,327.5 767.1,329.2 768.4,326.0 770.0,327.5 770.6,327.7 770.7,326.8 770.5,331.2 771.8,331.5 771.7,333.3 772.3,335.6 772.5,335.0 773.1,335.4 774.4,339.1 774.8,340.3 775.1,336.9 776.2,339.0 776.7,337.4 777.1,334.4 776.9,336.9 777.5,332.1 777.6,332.7 777.9,332.9 778.4,331.2 778.6,333.2 778.1,330.6 778.3,328.3 778.8,327.5 779.3,327.7 779.5,327.0 779.5,327.3 779.7,323.1 779.7,321.0 780.2,319.2 779.7,320.0 779.6,321.9 780.5,321.5 780.7,316.0 781.1,316.6 780.7,316.0 780.4,316.3 780.6,314.6 781.2,312.5 781.4,311.0 782.4,312.8 782.8,311.7 783.9,310.9 784.4,306.8 785.0,307.5 785.9,308.4 787.2,308.6 788.8,307.5 789.9,307.9 790.6,311.7 790.7,310.1 791.5,312.7 792.3,311.7 792.5,312.5 794.0,312.5 794.1,313.2 795.1,315.4 796.0,315.6 797.5,315.0 798.5,317.5 799.1,316.6 800.4,315.6 801.9,313.2 802.5,314.0 802.7,313.3 803.4,313.6 802.6,318.7 803.4,318.1 803.9,320.3 804.4,319.3 803.7,319.0 803.9,323.5 804.5,321.7 804.4,323.3 805.0,325.0 805.2,327.4 805.2,328.9 805.3,330.9 806.0,332.0 806.4,333.4 806.4,332.4 806.5,334.2 807.3,331.8 807.0,334.0 808.2,334.9 808.7,334.7 810.0,332.5 811.2,333.5 812.2,336.9 812.5,335.0 813.5,334.6 813.9,336.6 814.3,335.4 815.5,337.7 816.2,339.0 816.5,337.1 817.4,337.0 817.1,336.5 817.8,337.4 818.9,337.2 818.8,331.5 819.0,334.2 819.4,331.5 820.0,330.0 820.9,327.4 822.3,327.3 823.8,330.0 824.4,329.3 825.2,331.0 826.1,327.2 826.3,327.4 827.1,327.6 827.5,325.0 828.6,325.3 829.9,325.0 830.9,325.2 831.2,327.5 830.9,324.8 831.4,325.3 831.6,324.5 832.4,325.5 833.0,324.0 833.0,324.7 832.4,322.4 833.2,317.6 833.3,319.9 833.8,317.5 833.3,316.9 834.5,315.3 834.5,314.8 833.9,311.1 834.8,310.1 835.0,308.7 835.1,308.6 834.5,309.2 834.8,311.2 834.5,309.2 835.7,308.8 835.5,303.7 835.0,302.8 835.7,302.4 836.2,304.9 835.9,304.4 835.5,301.6 836.1,300.5 836.6,298.3 836.2,297.5 836.2,295.3 836.6,293.0 837.7,294.3 837.7,291.2 838.1,292.2 838.4,290.7 838.8,290.0 838.6,286.8 839.2,286.8 839.5,288.1 839.9,287.9 840.5,282.7 840.7,282.8 841.2,282.5 841.3,282.4 842.5,281.8 842.5,279.6 843.0,281.2 842.8,276.4 843.6,274.1 844.3,273.2 844.4,274.3 845.0,274.0 846.0,274.8 845.7,274.2 846.4,275.1 847.4,279.6 847.3,278.3 847.8,277.3 848.8,280.0 849.3,279.9 849.6,276.5 849.9,274.1 849.8,274.4 850.9,276.1 850.6,274.3 851.3,274.1 851.3,273.0 851.6,272.6 852.5,270.0 852.5,268.5 852.2,266.8 853.4,267.5 852.6,265.3 852.7,265.8 853.3,263.6 852.8,262.5 853.3,259.4 853.9,263.4 853.5,258.1 853.2,258.6 853.7,258.9 853.6,259.0 854.3,259.0 853.6,255.4 853.7,254.0 854.4,253.8 854.8,252.4 854.6,249.8 854.5,250.0 855.1,252.1 856.0,250.9 857.5,252.5 858.7,252.2 859.6,250.4 860.6,249.7 861.2,250.0 862.7,249.2 862.6,250.6 864.3,249.4 865.0,252.5 865.5,252.6 866.1,248.7 865.6,250.2 866.6,247.7 866.3,244.1 867.6,245.0 867.5,245.0 867.9,246.2 869.0,245.9 869.4,244.7 870.1,243.8 870.5,240.0 870.8,242.7 871.0,241.2 871.0,242.7 871.4,243.2 871.3,245.4 871.8,244.8 871.9,246.8 871.9,248.9 872.2,249.4 872.9,251.7 872.9,253.0 873.6,251.1 873.2,252.9 873.4,253.3 873.8,255.0 874.4,256.6 874.7,257.1 874.7,256.3 874.8,257.8 875.7,258.9 875.4,262.2 876.4,260.7 876.6,263.5 876.9,264.6 877.0,265.0 876.8,263.3 877.1,262.1 877.9,264.5 878.7,262.5 878.2,262.1 878.3,258.5 879.4,259.6 879.2,257.2 879.7,255.2 880.0,255.0 881.1,254.9 881.7,255.6 881.8,252.6 883.0,250.6 882.7,249.2 883.8,250.0 884.4,248.2 883.8,249.0 884.6,248.8 883.9,246.0 884.2,246.6 885.0,242.1 884.5,242.3 884.5,242.4 884.7,238.3 884.4,238.7 885.4,238.0 885.5,236.8 885.0,237.5 885.7,233.3 885.4,235.1 886.2,232.5 885.6,234.5 886.1,232.6 885.6,230.6 886.2,230.0 887.0,228.2 887.5,228.7 887.8,225.3 888.7,225.1 889.8,225.0 890.0,225.0 890.6,222.9 890.6,221.9 890.3,220.8 889.8,220.2 890.8,221.3 890.8,218.0 891.1,217.7 890.5,214.3 890.9,213.9 891.2,216.2 890.8,214.5 890.5,214.9 891.3,211.0 891.7,210.4 891.2,207.5 890.7,206.8 890.9,205.2 891.4,205.7 891.3,205.8 891.6,206.0 891.3,206.3 891.8,203.4 892.3,201.7 892.4,200.2 892.0,200.0 892.0,198.4 892.4,198.2 892.0,196.0 892.4,198.2 892.9,193.1 892.7,193.7 893.4,191.8 893.1,190.6 893.2,193.2 893.1,189.6 893.8,189.6 893.7,187.5 894.2,185.1 894.4,185.1 894.5,184.0 894.0,182.1 894.5,182.5 894.9,182.6 894.9,181.5 894.8,179.5 895.5,176.4 895.3,178.1 895.3,177.3 895.6,176.1 896.0,174.4 896.0,173.5 896.7,172.1 896.6,169.8 897.0,170.0 897.9,169.8 899.0,169.1 899.5,167.5 899.3,168.8 900.2,169.4 900.2,170.9 900.0,170.9 900.6,175.3 899.9,175.1 900.0,175.6 901.2,178.5 900.6,178.7 900.6,180.2 901.1,181.2 901.7,177.5 901.8,180.1 901.6,182.7 901.4,184.4 901.7,185.4 902.0,185.0 902.1,182.7 902.1,180.4 902.5,182.1 903.0,179.0 904.0,178.3 904.2,181.0 904.0,181.3 904.1,179.0 905.1,177.8 905.0,175.0 905.0,177.5 906.2,175.1 906.2,178.1 906.0,181.4 906.7,182.0 907.1,182.8 907.5,182.5 908.3,180.7 908.4,179.2 908.1,181.1 908.6,180.0 908.7,176.2 909.1,178.9 909.6,176.0 910.2,172.2 910.6,174.0 910.5,172.5 910.4,173.2 911.2,173.8 911.0,176.1 911.0,176.8 911.6,180.0 912.1,179.0 912.3,177.8 912.6,179.3 912.2,178.9 912.6,182.8 913.0,182.8 913.0,183.0 913.7,183.3 913.9,185.4 913.8,187.5 914.5,186.4 914.6,186.2 915.5,186.3 916.7,185.6 917.0,182.5 917.6,184.4 917.7,184.5 917.4,188.2 917.9,184.8 917.8,187.4 918.9,187.0 918.3,188.8 919.1,188.8 919.2,189.7 919.4,192.7 920.1,193.9 920.0,195.0 920.8,194.1 920.0,194.8 920.9,199.3 920.8,199.7 921.2,202.1 921.4,202.6 922.0,202.5 922.5,202.0 922.6,200.0 923.1,196.8 922.8,199.1 923.8,197.9 924.2,194.2 923.6,197.2 923.9,193.5 924.2,192.5 925.0,192.5 924.9,191.2 925.4,189.5 926.0,188.4 925.4,189.4 925.5,185.9 925.8,185.0 926.8,186.1 926.3,187.3 927.2,181.1 927.6,181.4 927.1,180.6 927.5,180.0 928.4,177.0 928.1,177.4 928.9,176.3 928.9,177.6 929.2,173.1 929.5,175.0 930.0,172.5 930.3,174.3 930.6,174.5 930.8,174.0 930.5,178.3 931.7,177.1 930.9,181.2 931.9,180.8 932.0,182.4 932.0,180.5 932.5,182.5 933.2,182.2 933.6,179.1 934.1,180.3 934.3,176.1 935.0,176.2 934.9,175.6 935.5,176.4 936.2,175.0 937.0,177.4 938.5,176.9 939.3,174.8 940.0,177.5 940.8,176.7 940.9,176.6 940.5,179.0 941.2,180.6 941.1,181.8 941.6,183.5 942.0,187.3 942.1,185.6 942.5,188.2 943.0,187.5 943.7,189.4 943.9,189.2 943.5,189.1 944.2,188.5 944.3,194.1 945.3,193.5 944.9,193.2 945.5,195.4 946.4,198.0 946.2,197.5 946.8,195.6 946.7,194.8 948.2,194.0 948.3,192.4 948.8,192.5 948.4,194.0 948.6,196.3 949.5,195.1 949.2,193.7 949.5,194.9 949.3,195.3 949.4,197.4 949.6,197.9 949.7,201.3 950.2,204.6 950.2,202.7 950.1,206.6 950.3,207.4 950.8,208.9 951.5,208.6 951.2,209.0 951.0,206.7 951.9,207.6 951.8,207.4 952.0,205.3 952.4,203.7 952.7,203.4 953.4,200.9 953.8,199.3 953.8,200.0 953.6,198.6 954.2,196.1 954.6,196.4 954.5,195.0 954.5,196.9 955.5,197.0 955.7,196.2 955.8,190.9 955.3,191.1 956.0,191.9 956.1,189.9 956.2,187.5 957.2,184.8 957.0,183.2 957.4,184.7 958.5,183.4 958.8,182.5 959.1,182.3 959.1,182.6 959.5,185.8 959.1,183.9 959.5,189.7 959.6,188.5 960.2,190.7 960.0,191.6 960.3,192.1 960.9,190.8 960.9,195.9 960.7,197.4 960.6,197.3 961.3,197.5 961.2,197.5 961.8,200.0 961.3,201.3 961.6,202.3 961.7,201.0 962.3,204.3 962.3,206.0 961.8,203.2 962.0,205.8 962.0,205.8 962.9,205.6 963.2,206.7 963.3,208.4 962.8,209.4 962.6,211.1 963.2,212.5 963.9,212.1 963.0,214.3 963.8,216.0 963.9,216.9 964.0,213.0 965.2,210.4 965.4,212.0 965.6,209.9 966.2,210.0 966.3,210.3 967.1,210.5 967.3,205.4 967.3,202.7 967.5,206.0 967.9,204.3 967.8,200.8 967.8,199.9 968.4,198.5 968.7,199.6 968.7,199.0 968.8,197.5 969.5,198.3 969.4,196.5 969.8,197.4 970.2,191.9 971.3,193.7 971.4,192.9 971.9,192.8 972.0,190.0 972.2,191.2 972.3,193.3 972.9,191.2 972.7,195.6 973.7,196.6 973.1,194.3 973.6,196.9 974.6,200.9 974.6,199.6 974.1,201.0 974.4,203.1 975.0,202.5 975.2,202.5 975.5,202.2 976.3,204.4 976.5,205.6 976.4,208.8 976.4,207.0 976.8,209.0 977.1,211.0 977.5,210.3 977.3,214.9 977.4,212.7 977.7,212.3 978.9,214.5 978.8,216.0 979.5,215.6 979.3,215.8 978.9,213.9 979.4,211.5 979.4,211.6 980.0,210.4 980.2,209.0 980.8,205.7 980.9,208.0 981.1,204.8 981.2,205.0 982.2,205.2 981.4,204.7 982.5,204.4 983.2,199.9 983.5,201.4 983.5,197.8 983.8,197.5 983.8,195.9 984.5,196.6 984.8,193.8 985.1,195.9 985.5,195.4 985.2,195.0 986.1,191.0 986.9,190.7 986.6,189.1 987.0,187.5 987.4,189.1 988.3,190.7 987.9,187.7 988.0,192.9 988.3,194.2 989.6,194.4 989.5,193.2 990.0,195.0 991.2,193.8 992.0,196.0 992.9,195.8 993.8,197.5 994.2,197.8 993.8,197.7 994.2,195.0 994.8,192.6 994.7,190.3 995.3,192.5 994.7,187.7 995.7,188.7 995.7,186.1 995.6,186.1 995.2,188.2 995.5,184.7 995.8,182.8 996.2,183.0 997.2,182.7 998.3,178.9 998.8,180.0 999.6,180.1 1001.2,181.0 1001.8,181.0 1002.1,177.9 1001.5,179.6 1002.4,174.4 1001.7,177.4 1002.7,176.8 1002.9,175.2 1002.5,176.1 1003.4,174.1 1003.3,170.7 1003.2,170.0 1004.0,171.6 1003.7,172.4 1004.4,171.5 1005.2,171.3 1004.8,176.5 1005.7,177.1 1006.2,175.3 1006.2,177.5 1006.1,177.1 1006.1,174.2 1006.4,175.4 1006.1,175.3 1006.4,170.6 1006.2,173.4 1007.0,168.4 1006.9,166.7 1006.5,165.5 1007.3,167.9 1006.9,166.0 1006.8,162.6 1007.4,162.4 1007.5,164.3 1007.4,162.8 1007.1,159.7 1007.1,159.3 1007.0,160.1 1007.2,158.1 1007.5,157.5 1007.7,157.5 1007.5,155.6 1008.2,156.4 1007.9,153.6 1007.6,154.5 1007.5,150.3 1008.3,150.1 1008.0,147.2 1008.1,150.7 1008.6,147.0 1008.2,148.4 1008.5,143.4 1008.9,145.1 1008.3,144.0 1008.4,142.3 1008.6,140.9 1008.8,140.0 1009.5,140.4 1009.2,140.5 1009.1,140.3 1009.9,139.1 1009.9,137.8 1009.7,137.5 1010.9,135.7 1011.1,131.8 1011.3,130.0 1011.2,130.0 1011.8,128.5 1012.9,126.1 1012.7,128.0 1013.5,128.6 1014.5,125.0 1015.4,124.0 1016.9,123.8 1017.5,122.5 1018.3,123.7 1018.3,120.6 1019.4,117.4 1019.9,119.1 1020.5,120.5 1021.2,117.5 1021.5,116.2 1022.5,113.4 1022.4,114.4 1022.4,112.8 1023.0,111.0 1023.9,110.7 1023.8,110.0 1023.7,111.2 1023.9,109.8 1024.8,111.6 1024.4,116.0 1024.9,117.1 1025.3,116.6 1025.0,114.4 1026.0,118.4 1026.5,118.6 1026.2,120.0 1026.4,122.3 1027.0,119.9 1027.0,123.7 1027.7,121.7 1028.3,122.1 1028.1,126.5 1028.8,127.5 1029.4,127.8 1030.3,126.8 1031.5,130.8 1032.5,130.0 1032.9,130.4 1033.9,130.5 1034.3,128.8 1034.6,127.3 1035.8,128.1 1036.2,125.0 1036.6,124.4 1036.5,121.2 1037.3,119.9 1037.0,117.6 1037.6,121.3 1037.3,120.3 1037.9,116.5 1038.2,115.2 1038.4,114.5 1038.7,114.7 1038.4,115.2 1038.8,112.5 1039.0,115.2 1039.8,114.2 1041.1,111.5 1042.0,110.0 1042.2,112.1 1043.1,110.5 1043.4,112.8 1043.0,113.7 1043.6,116.3 1043.7,115.8 1044.8,115.6 1045.0,117.5 1045.8,119.3 1046.5,119.1 1046.5,121.0 1047.6,121.2 1047.8,122.8 1048.8,122.5 1049.8,121.7 1051.1,120.0 1052.5,122.5 1052.9,124.2 1053.5,122.9 1053.9,123.1 1053.5,124.2 1054.3,125.9 1055.1,127.7 1055.0,130.0 1054.9,132.2 1055.6,133.3 1055.2,133.6 1056.2,136.8 1055.6,132.7 1055.7,134.5 1056.6,136.3 1056.7,135.1 1055.9,137.3 1056.4,142.0 1056.4,139.7 1056.6,141.1 1056.9,141.6 1057.3,144.0 1057.5,145.0 1057.8,143.3 1058.3,144.2 1058.7,141.4 1058.6,142.6 1058.6,140.2 1059.4,136.9 1058.8,138.2 1059.9,139.2 1060.0,134.7 1060.0,135.0 1060.2,134.9 1060.2,138.3 1060.8,138.4 1061.0,137.4 1061.6,139.4 1061.5,139.3 1061.2,139.2 1061.3,140.5 1061.5,144.0 1061.6,146.7 1062.7,147.0 1062.5,147.5 1063.0,144.7 1064.1,147.0 1065.0,145.0 1065.2,145.9 1066.3,143.1 1066.7,141.3 1066.2,143.4 1067.4,141.0 1067.7,137.3 1067.9,139.2 1068.0,137.5 1067.9,139.0 1068.2,141.9 1069.2,142.7 1069.5,140.9 1069.9,141.8 1070.4,140.7 1070.6,143.3 1071.0,145.1 1071.0,145.7 1071.2,147.5 1071.4,146.8 1072.1,147.2 1071.8,151.0 1072.6,154.5 1071.8,156.0 1072.8,155.6 1072.2,155.8 1072.8,158.5 1073.5,157.9 1072.8,157.1 1073.3,160.2 1073.8,160.0 1073.5,157.7 1074.4,159.8 1074.0,155.7 1074.8,157.9 1074.4,155.7 1075.5,153.4 1075.1,149.7 1076.0,148.5 1076.1,147.7 1076.1,150.7 1076.3,147.2 1076.2,147.5 1076.7,146.1 1077.3,143.3 1077.3,145.8 1078.2,145.6 1078.8,142.5 1078.6,141.0 1079.2,140.1 1079.6,139.7 1079.3,138.5 1079.2,140.2 1079.4,134.0 1079.3,133.7 1079.4,133.4 1080.0,135.4 1080.4,134.1 1080.7,132.1 1080.5,130.0 1081.4,128.5 1081.9,126.5 1082.8,127.8 1082.9,125.2 1083.8,126.0 1084.7,126.6 1084.6,127.4 1085.2,122.3 1086.2,122.5 1086.8,122.2 1087.0,121.4 1087.0,119.6 1087.3,120.8 1087.4,118.6 1087.9,116.4 1087.4,115.4 1088.0,114.0 1089.0,113.2 1090.2,112.5 1091.2,112.5 1091.5,111.0 1091.9,110.0 1092.0,112.3 1093.1,106.4 1093.2,106.7 1093.5,107.2 1093.5,105.0 1094.5,105.0 1096.0,106.1 1096.5,102.5 1097.5,102.5 1097.2,102.9 1098.3,106.2 1097.8,104.5 1098.7,107.6 1098.4,107.7 1099.1,107.2 1099.4,111.6 1099.3,108.9 1099.6,114.3 1099.2,113.1 1100.1,112.5 1100.0,115.0 1100.6,112.3 1100.4,113.2 1101.1,114.2 1100.4,112.0 1101.0,110.5 1101.7,107.4 1101.0,108.8 1101.5,105.3 1101.7,105.8 1102.4,104.3 1102.5,102.5 1102.5,102.5 1103.3,102.7 1102.9,106.5 1103.0,106.6 1103.8,106.2 1103.8,108.3 1103.9,105.9 1104.2,109.3 1105.0,109.5 1105.2,112.8 1105.5,112.5 1106.2,110.6 1107.1,109.0 1107.2,107.2 1108.6,107.8 1108.8,107.5 1109.6,105.4 1110.9,104.9 1112.5,107.5 1113.0,105.2 1113.6,106.7 1114.2,104.6 1115.4,104.9 1115.5,102.5 1116.2,101.4 1116.4,99.3 1116.2,99.2 1115.9,97.6 1116.8,95.0 1116.7,95.0 1116.7,94.7 1116.5,92.3 1117.2,91.8 1116.6,92.1 1117.3,91.7 1117.5,90.0 1118.5,87.2 1120.0,89.0 1121.3,87.4 1121.7,89.9 1122.6,89.0 1123.8,91.0"/>
<polyline fill="none" stroke="#0a0a0a" stroke-width="2.3" stroke-linejoin="round" stroke-linecap="round" points="213.0,508.8 213.6,507.5 214.0,508.5 214.6,505.8 215.0,502.7 215.8,503.6 215.8,500.1 216.8,498.8 216.6,500.3 217.5,498.8 218.8,500.3 219.4,498.1 219.7,494.4 221.0,495.0 221.4,495.9 222.4,495.4 223.4,495.3 224.5,498.4 225.0,500.0 225.5,498.9 225.8,497.7 225.8,496.4 226.8,498.0 226.9,496.5 226.8,492.5 227.0,490.9 227.6,492.1 228.0,491.4 228.7,490.2 228.8,487.5 228.8,484.7 229.5,487.1 229.8,487.0 230.4,481.4 230.4,483.0 231.0,481.0 231.7,478.2 233.0,481.4 233.4,476.8 234.5,477.5 234.2,477.3 234.5,480.7 234.9,481.4 235.3,480.5 235.3,481.0 235.2,482.0 235.2,483.6 235.9,488.8 236.1,487.2 235.8,487.9 236.0,490.0 236.2,491.8 236.7,491.2 236.1,492.2 236.3,495.3 236.1,494.8 236.7,494.5 236.9,496.0 236.8,497.9 237.0,502.1 237.4,501.7 236.9,500.6 237.6,505.1 237.1,503.3 238.0,506.5 238.1,505.1 237.9,509.4 237.5,508.6 238.4,507.4 238.3,509.3 238.5,510.7 238.1,513.3 238.6,513.1 238.3,513.9 239.0,516.4 238.8,517.5 238.8,516.8 239.0,517.3 239.3,512.0 239.3,512.5 239.9,510.2 239.9,510.9 240.9,509.1 240.9,510.1 241.0,507.5 241.2,509.2 240.8,508.8 241.7,509.0 241.9,512.4 241.7,511.0 241.9,513.7 242.2,514.2 241.9,514.0 242.4,518.3 242.3,519.9 242.6,521.3 242.5,520.2 242.8,523.8 242.8,522.8 242.7,525.9 242.6,526.0 243.0,526.8 243.1,525.2 243.5,530.5 243.1,530.8 243.4,531.7 243.7,531.6 243.8,531.6 243.7,532.7 243.8,535.0 243.6,535.9 243.9,538.1 244.3,539.2 243.5,538.5 244.2,539.6 243.8,540.3 244.3,545.0 244.6,544.3 244.5,544.6 244.3,545.4 244.8,548.6 244.5,549.0 244.5,549.5 244.5,547.4 244.7,543.7 245.2,545.8 245.3,544.2 245.0,542.0 244.7,542.7 244.9,544.1 245.1,544.3 245.2,547.0 245.6,546.9 245.3,551.3 244.9,548.2 245.0,552.9 245.5,553.7 245.8,552.7 245.2,552.0 245.1,555.2 245.4,558.6 245.3,556.5 245.7,559.7 245.9,561.0 246.3,562.8 245.6,563.4 245.6,563.9 246.0,565.0 246.1,562.2 245.9,563.5 246.2,560.6 246.5,561.4 246.9,560.1 247.0,557.8 246.5,558.5 247.0,556.0 247.3,558.7 247.1,556.8 247.7,559.8 247.4,559.9 247.7,563.4 247.5,565.2 247.3,564.8 248.0,565.7 247.8,566.0 248.2,565.6 248.6,562.3 248.8,564.7 248.8,561.7 248.8,560.0 249.2,558.3 248.8,559.1 248.9,554.5 249.3,555.2 248.7,553.9 248.8,554.4 249.0,553.4 249.6,549.9 249.1,548.0 249.5,548.0 250.0,549.0 250.2,552.2 250.2,554.2 250.5,553.0 250.2,553.4 250.7,549.8 251.0,548.2 250.9,548.8 251.0,548.9 250.9,545.2 251.5,546.4 251.6,542.3 251.3,544.2 251.1,541.6 251.5,540.0 251.8,541.6 251.7,543.3 252.5,544.0 252.9,547.8 253.6,546.5 253.8,548.0 253.9,547.0 253.6,546.4 254.1,544.9 254.7,545.9 254.4,541.5 254.5,539.2 255.1,541.4 254.7,539.1 255.1,536.3 254.8,538.7 254.8,537.4 255.2,533.2 255.4,534.0 255.8,531.8 256.1,530.0 256.0,530.0 256.2,527.8 256.1,526.8 256.5,526.6 256.7,524.9 256.7,524.4 257.3,521.7 257.4,522.6 257.7,522.9 257.5,522.0 258.3,520.3 258.0,519.9 258.8,515.9 259.1,513.8 258.5,516.0 259.2,512.1 258.8,510.8 259.3,512.0 259.2,510.8 260.0,508.5 260.0,507.5 260.1,506.8 261.1,510.2 260.7,513.2 261.7,512.2 262.0,512.9 261.7,512.8 262.5,515.0 262.4,512.5 263.3,512.7 263.3,512.0 263.8,509.0 264.9,511.0 264.4,510.8 265.7,505.5 265.9,505.8 266.0,505.0 266.4,503.3 266.7,502.7 266.7,502.2 267.9,501.7 268.0,498.0 268.3,499.4 268.5,495.9 268.7,496.1 269.9,496.3 270.0,494.0 270.8,496.4 270.9,497.3 271.5,498.2 272.3,501.0 272.5,500.0 273.2,498.3 273.3,498.8 273.2,498.5 274.0,497.9 274.1,495.8 274.1,494.9 274.0,493.5 274.7,490.7 275.0,490.0 275.5,487.3 276.4,488.4 277.3,485.9 277.3,486.9 278.2,486.2 278.6,484.7 279.5,485.2 280.0,482.5 280.5,482.2 280.1,482.3 281.0,480.2 281.0,477.1 281.0,474.7 281.2,475.1 282.3,473.6 282.2,474.0 282.5,475.3 282.8,474.7 282.5,472.5 283.5,470.2 283.9,467.4 283.8,467.5 284.0,467.3 284.2,467.9 284.1,471.1 284.7,474.3 285.1,473.5 285.0,473.5 285.6,475.9 286.0,475.8 286.0,477.5 285.8,475.7 286.1,474.0 287.0,472.1 287.4,472.1 286.8,473.0 287.9,473.4 288.1,467.7 288.0,467.8 288.0,469.2 288.9,466.4 288.8,465.0 289.0,466.9 289.7,469.8 289.3,469.1 290.0,470.1 289.9,468.9 290.3,471.4 291.0,472.5 291.4,471.2 291.2,470.1 291.6,469.5 291.9,469.4 292.5,469.7 292.1,467.5 292.9,463.0 292.9,464.8 292.8,462.0 293.3,462.3 293.6,460.9 293.4,460.6 294.3,457.0 294.5,458.7 293.9,454.2 294.5,453.8 294.4,453.8 295.0,452.5 295.0,451.6 296.0,448.5 296.4,449.3 296.6,447.6 296.9,445.6 297.8,447.2 297.6,443.3 298.5,444.9 298.8,443.0 299.0,445.5 299.6,444.8 300.3,447.5 301.0,447.0 301.9,446.6 301.9,443.9 302.6,444.7 302.5,442.1 303.4,439.5 303.5,440.0 303.4,439.6 304.0,442.2 304.1,444.3 304.1,446.0 304.9,444.3 304.8,444.3 305.4,448.5 305.2,447.9 306.0,449.4 306.0,451.0 305.8,449.5 306.5,449.4 307.0,449.4 306.7,448.7 306.8,447.4 307.1,443.7 307.8,445.4 307.5,441.2 307.7,440.3 307.9,439.3 308.3,437.2 308.4,439.1 308.7,438.6 309.0,434.2 308.8,436.2 309.2,431.5 309.5,432.2 309.7,432.6 309.4,431.0 310.0,429.0 310.6,430.4 310.2,429.3 311.2,433.2 311.2,431.4 311.6,432.4 311.4,436.1 312.2,435.5 312.5,437.8 312.5,439.0 312.6,437.6 313.1,438.4 313.2,436.0 313.6,435.8 313.6,435.8 314.1,434.4 314.4,433.4 314.7,432.2 314.7,431.8 315.0,428.5 315.0,428.5 315.0,425.7 316.0,425.5 315.5,423.4 316.0,422.5 316.2,420.6 316.9,419.4 316.6,417.2 317.1,415.8 316.9,418.1 317.5,413.8 318.1,415.0 317.6,411.4 318.0,410.7 318.7,409.9 318.5,410.7 318.8,407.8 319.5,406.7 319.5,406.4 319.7,406.8 320.0,405.0 320.6,403.3 320.3,404.2 321.1,402.0 320.6,400.3 321.5,396.8 321.1,399.2 321.5,397.2 322.1,394.6 321.6,395.1 322.1,391.5 322.6,391.6 322.5,391.0 322.7,392.6 322.3,392.3 322.5,393.6 322.8,397.0 323.3,397.6 322.9,396.8 323.2,397.0 323.3,397.3 323.3,402.6 322.9,400.5 322.8,404.4 323.2,404.7 323.4,408.2 323.1,409.2 323.3,410.0 323.1,411.6 323.2,412.1 323.6,411.9 323.9,411.7 323.5,413.3 323.8,415.0 323.7,414.9 324.3,416.9 324.4,417.7 324.3,417.5 325.1,420.2 324.9,423.5 324.8,420.8 324.9,425.0 325.3,425.8 325.9,424.3 325.4,428.6 325.6,429.3 326.0,430.0 326.4,428.6 326.6,426.7 327.3,426.1 327.3,424.3 327.8,425.6 328.4,425.3 328.8,422.5 328.7,424.4 328.6,426.0 328.8,424.5 329.5,427.5 329.4,426.4 329.7,430.6 329.5,428.3 329.5,429.2 329.6,431.6 330.1,435.5 330.4,434.9 330.7,437.0 330.4,436.4 330.3,437.5 331.0,438.6 331.0,440.0 331.5,440.1 331.6,438.6 331.6,434.8 332.1,434.5 332.1,432.3 332.8,433.2 332.9,434.0 333.3,429.7 333.3,432.0 333.5,428.6 334.0,426.0 334.0,429.0 334.6,427.0 334.9,423.8 334.5,423.8 335.0,422.5 335.6,419.6 336.9,420.9 337.5,420.0 338.1,418.4 337.8,417.2 338.5,415.0 338.6,413.5 338.5,414.3 338.4,413.6 339.3,414.3 339.1,413.0 339.5,408.3 339.8,407.5 339.7,406.2 339.5,408.1 339.6,405.9 339.9,402.5 340.8,404.6 340.4,402.7 340.8,401.0 341.3,402.8 341.4,402.9 341.2,406.0 341.9,404.3 342.1,404.7 342.2,408.0 342.6,409.2 343.0,410.5 343.0,411.8 343.8,412.5 344.2,414.3 345.3,416.7 346.0,415.0 346.1,416.2 346.6,417.6 346.8,419.5 347.2,419.5 347.3,422.2 347.1,421.4 347.7,423.0 347.5,423.9 348.1,424.5 347.5,425.0 348.4,428.1 348.3,429.4 348.3,430.5 348.2,430.8 348.8,430.5 349.0,432.5 349.0,431.3 349.3,429.0 349.0,429.0 349.2,427.3 348.9,425.7 349.9,427.4 349.8,425.7 349.9,423.3 349.9,420.9 350.1,421.4 350.1,418.1 349.9,416.7 349.5,419.9 349.8,415.7 349.7,414.6 350.4,416.4 350.1,413.1 349.9,412.7 350.7,408.8 350.4,408.7 351.0,410.9 350.3,407.9 351.0,405.8 350.4,406.8 350.6,405.6 350.5,403.3 351.4,403.0 351.0,401.0 351.5,401.3 352.0,401.5 351.7,401.8 352.2,406.3 353.1,408.8 352.7,409.1 353.8,409.7 353.8,410.0 354.1,408.9 355.1,406.6 355.7,407.9 356.5,404.7 357.5,405.0 358.4,404.5 358.8,402.4 359.3,403.9 359.6,399.9 360.6,401.6 361.0,399.0 361.4,397.5 362.1,395.2 361.9,395.2 361.8,394.8 362.3,394.1 363.1,391.3 362.9,389.1 363.2,391.4 363.8,388.3 364.5,386.6 363.9,388.8 364.9,386.2 365.0,385.0 365.9,385.5 365.7,386.9 366.6,388.3 367.2,388.4 367.5,390.0 367.9,389.7 368.6,388.0 368.7,387.7 368.7,388.0 369.1,386.3 369.6,384.2 370.5,382.1 370.9,382.0 371.0,380.0 372.3,379.2 373.7,379.1 375.0,381.0 375.0,379.6 376.0,379.1 376.6,377.9 376.3,374.7 377.1,373.1 377.5,374.0 377.7,374.6 378.2,375.0 378.6,374.9 378.4,378.4 378.4,381.1 378.7,379.1 378.9,379.4 379.3,383.0 379.5,384.0 379.9,382.1 380.4,379.7 380.2,378.5 380.9,377.3 381.3,379.7 381.2,375.0 381.3,374.9 381.5,376.7 382.4,373.8 382.5,372.5 382.7,373.7 383.7,370.7 383.8,367.1 384.2,369.9 385.0,367.5 385.1,366.2 385.2,364.9 386.3,361.7 386.3,364.0 386.2,360.7 386.4,360.9 387.4,359.6 387.1,358.2 387.5,357.5 387.7,359.8 387.7,358.3 387.5,361.2 388.2,361.2 388.3,364.8 388.3,366.4 388.8,365.0 388.8,365.7 388.6,365.8 388.9,366.6 388.7,367.6 389.1,369.2 389.2,370.9 389.5,374.1 389.5,374.0 389.4,373.9 389.4,371.6 389.8,371.2 389.6,368.6 390.0,366.6 390.8,366.3 390.3,367.0 390.3,364.3 390.7,365.9 391.1,364.3 390.6,363.8 391.1,359.7 391.7,356.9 391.8,356.8 391.2,356.8 391.5,355.2 391.6,352.5 391.6,353.5 392.1,351.7 392.0,351.2 392.5,350.0 393.0,349.9 394.1,349.3 394.3,345.4 395.5,344.8 396.0,345.0 396.3,345.7 396.6,348.8 397.2,347.5 397.3,347.9 398.3,347.9 399.0,351.6 398.9,355.0 400.0,354.7 400.0,355.0 400.3,355.4 400.7,357.6 400.2,359.9 400.2,360.3 400.7,360.2 400.8,359.3 401.1,361.4 400.9,362.4 401.4,364.1 401.7,364.1 401.3,365.4 401.8,367.1 402.1,367.6 402.2,370.8 401.9,372.0 402.5,372.5 402.6,371.0 402.8,367.7 403.1,366.1 403.3,367.5 403.3,365.6 403.8,365.0 403.7,365.0 404.0,368.1 404.2,367.7 404.1,368.2 404.6,370.9 404.3,371.1 404.6,375.0 404.6,374.9 404.4,374.7 404.9,375.0 404.6,379.1 404.3,380.8 404.9,378.0 404.8,379.4 404.7,384.0 404.9,381.6 405.0,384.7 405.3,382.6 405.1,385.3 405.6,387.1 405.7,388.6 406.0,389.8 405.6,392.2 406.2,391.5 406.1,392.4 406.0,394.0 406.3,393.3 406.6,393.4 406.6,389.6 406.7,389.3 406.6,387.7 407.0,388.5 406.9,385.0 407.0,384.0 407.1,383.8 407.2,380.6 408.0,379.3 407.9,378.2 408.1,380.5 408.6,377.1 408.0,378.3 408.6,375.6 408.8,375.0 409.0,374.9 409.2,374.2 409.5,373.1 410.3,370.1 410.7,371.3 410.6,369.0 411.0,367.5 411.5,369.3 412.0,371.5 411.9,369.0 412.1,372.4 412.3,371.3 413.5,374.1 413.1,376.6 413.8,376.0 414.4,376.2 415.2,374.5 416.0,372.5 416.7,372.5 416.6,369.1 416.2,367.5 417.0,366.8 416.6,369.2 416.8,365.2 417.4,364.8 417.4,362.9 418.1,363.8 417.9,360.4 418.5,360.6 418.3,361.6 418.6,359.3 418.5,358.5 418.6,354.2 419.0,356.2 419.0,353.6 419.1,351.7 419.5,351.2 420.0,350.0 420.2,349.3 420.7,346.7 420.9,345.8 421.1,343.1 421.7,346.2 421.9,341.5 423.1,341.9 423.3,339.8 423.3,339.9 423.8,339.0 424.4,341.7 425.3,339.3 426.0,342.5 426.8,342.1 427.8,339.7 428.5,341.6 428.8,339.0 429.5,340.1 429.3,342.3 429.7,340.1 430.0,341.1 431.1,343.5 431.3,344.5 431.4,344.3 431.6,349.1 432.5,349.0 433.0,350.3 433.1,352.1 433.3,352.1 433.5,354.8 433.0,357.2 433.5,358.3 433.5,358.2 433.4,360.1 433.8,359.6 434.1,359.5 434.7,361.8 434.7,361.6 434.6,362.5 434.8,366.4 435.0,363.7 435.0,367.4 435.5,368.7 435.3,369.5 435.5,369.0 436.0,371.0 436.2,369.3 436.5,366.7 436.6,366.8 437.4,366.7 437.6,364.0 437.7,363.3 438.2,361.2 438.4,361.6 438.2,359.9 438.2,360.6 438.8,359.0 439.3,357.2 439.4,358.7 439.9,354.4 440.1,356.9 440.7,354.5 441.0,353.2 442.0,351.9 442.2,351.3 442.5,349.0 443.1,350.3 443.8,349.1 444.0,352.7 444.4,353.8 445.0,354.0 445.1,352.6 445.7,352.2 445.5,350.8 446.2,350.2 446.7,349.0 446.5,349.5 447.7,346.2 447.5,345.0 447.8,344.7 448.8,344.1 449.2,341.3 449.7,338.5 449.4,339.0 450.3,339.9 450.9,338.8 451.0,336.0 451.5,336.2 451.6,336.6 452.7,335.2 453.3,330.8 453.5,330.3 453.7,331.4 454.6,328.0 455.0,327.5 455.5,325.2 455.8,326.3 456.5,323.2 456.9,325.0 457.5,322.8 457.2,322.9 457.5,319.8 458.2,316.7 459.1,319.6 458.9,315.7 459.9,315.6 460.0,315.0 461.3,314.5 462.3,310.9 462.9,310.2 463.8,311.0 464.2,313.2 464.4,312.0 464.0,313.8 464.6,314.6 464.8,317.2 465.4,318.3 465.1,317.8 465.8,320.0 466.0,319.3 465.9,316.4 466.6,318.6 466.5,315.1 467.2,316.9 467.1,314.8 467.4,311.4 467.9,309.1 468.3,309.2 468.2,308.3 468.9,307.6 468.8,306.5 470.2,305.2 471.3,304.0 472.5,305.0 473.7,302.7 474.5,301.7 475.0,302.0 475.5,303.5 476.0,306.3 476.7,306.6 476.7,306.0 477.5,306.6 478.6,307.7 478.8,309.0 479.2,307.2 479.0,307.3 479.2,305.2 479.5,306.4 479.8,303.1 480.6,303.7 480.5,301.7 481.1,298.1 480.9,297.2 481.2,297.5 481.8,295.7 481.9,295.8 482.8,296.2 482.9,290.8 483.0,291.3 483.3,290.3 484.0,290.3 484.7,290.5 484.5,288.9 485.0,286.0 486.4,287.5 488.0,286.0 488.8,284.0 489.2,283.7 489.8,285.3 490.6,285.6 490.5,286.5 491.0,287.2 491.2,291.3 492.2,290.4 492.5,292.5 493.5,293.8 494.3,293.3 495.0,296.5 495.5,295.0 496.2,297.5 496.8,297.1 497.0,301.2 496.7,298.9 497.1,302.0 497.5,301.2 497.4,303.1 497.7,303.4 497.4,304.5 497.8,307.6 497.9,310.3 497.9,310.0 498.5,310.5 498.8,312.5 499.0,313.7 498.9,316.4 499.3,317.9 499.9,319.7 500.2,318.0 500.9,321.0 500.2,320.1 501.3,320.2 501.2,322.5 501.7,322.0 501.8,318.8 501.7,316.5 502.8,316.6 503.0,317.5 502.8,313.6 503.0,312.4 503.9,312.1 503.8,312.5 503.9,310.7 504.5,310.6 504.4,311.3 504.9,308.2 504.5,306.2 504.7,306.7 505.0,303.9 505.2,303.1 505.4,301.7 506.0,298.7 505.9,297.9 506.0,298.6 506.2,297.5 506.3,295.5 506.9,294.5 507.2,294.0 507.9,294.3 508.2,289.6 508.3,292.9 509.6,290.4 509.7,288.2 510.0,287.5 510.1,286.0 510.6,285.7 510.8,283.5 511.3,283.2 511.0,279.8 511.4,279.4 511.8,281.3 512.1,281.0 512.6,277.1 513.1,274.5 512.8,276.9 513.5,274.1 513.6,274.3 513.8,272.5 514.3,270.1 514.4,267.9 515.0,269.0 514.4,268.8 515.4,269.3 514.9,266.6 515.6,265.9 516.4,264.3 516.2,262.5 516.1,265.2 516.7,266.4 516.9,267.3 517.2,266.8 517.3,265.9 517.3,269.6 518.0,270.0 518.6,267.9 518.5,268.3 518.4,265.0 519.4,264.4 519.7,264.7 519.4,262.1 520.1,262.4 520.4,259.4 519.8,259.9 520.4,258.8 521.2,258.8 521.2,257.1 521.2,256.0 521.8,256.8 522.0,256.5 522.1,257.4 522.1,258.8 522.4,259.7 522.8,263.1 523.1,263.5 523.1,266.6 523.5,266.8 523.8,267.5 523.9,268.3 524.2,266.8 525.0,263.3 524.9,263.4 525.8,259.9 526.1,260.4 526.2,260.0 526.5,260.9 527.0,262.4 526.6,265.0 526.6,264.7 526.6,266.9 527.4,265.9 527.4,265.3 527.4,268.9 527.2,269.1 527.9,273.3 527.4,274.1 527.6,275.1 528.1,273.2 527.8,275.9 528.4,277.8 528.9,279.2 528.5,279.5 528.8,280.0 529.1,280.2 529.4,277.2 529.1,277.5 529.0,274.3 529.4,274.3 529.6,272.1 530.0,269.9 530.0,269.4 530.4,268.3 530.2,270.3 531.1,269.3 530.9,266.9 531.1,265.9 531.2,264.0 531.8,265.6 531.4,267.2 532.2,265.8 532.2,267.5 532.1,268.0 532.5,269.7 532.5,273.9 532.5,273.5 533.2,272.7 533.4,272.8 532.7,276.6 532.9,279.4 533.1,279.0 533.5,282.1 533.4,282.6 533.6,282.6 534.2,281.4 534.5,284.9 534.5,285.0 534.9,284.9 534.3,283.0 534.5,281.7 534.8,280.6 534.8,279.3 535.1,279.2 534.9,277.1 535.5,275.9 535.6,277.2 535.4,272.1 535.9,271.4 536.3,273.5 536.4,272.9 536.5,271.3 536.2,265.8 536.5,267.0 536.5,266.2 536.2,266.4 537.1,263.7 536.4,260.9 537.3,261.9 537.0,260.0 537.2,256.8 538.4,259.4 539.0,257.3 539.5,256.0 540.1,258.0 539.7,255.9 540.9,260.5 540.7,262.4 540.9,261.1 541.6,260.2 541.8,262.8 542.0,265.0 542.0,266.1 542.2,267.9 542.7,267.4 542.1,267.8 542.6,269.3 542.5,273.2 543.0,272.0 543.0,272.9 543.4,274.0 542.9,274.8 543.1,276.5 543.6,279.8 543.6,281.3 543.9,280.3 543.8,282.5 544.3,281.7 545.9,283.5 546.2,285.0 546.4,285.6 547.3,289.0 546.7,288.1 547.6,290.9 547.9,289.9 547.7,291.0 548.4,293.1 548.8,293.8 548.8,295.0 548.8,295.0 548.5,296.7 548.7,299.6 549.5,298.5 549.7,302.4 549.8,301.1 549.7,300.8 549.3,305.8 549.8,303.3 550.0,307.7 549.8,309.7 549.6,307.9 550.5,308.1 549.9,308.0 549.8,310.4 550.0,311.4 550.5,311.6 550.6,314.7 550.7,317.2 550.4,319.1 550.4,317.3 551.2,318.5 551.1,321.4 551.0,320.7 551.2,322.5 551.2,323.7 552.0,325.9 551.8,326.0 551.8,328.9 552.3,326.9 551.6,331.7 552.1,332.3 552.0,329.7 552.7,330.9 552.1,332.4 553.0,333.9 553.0,336.2 553.0,337.5 552.8,336.3 553.0,333.9 553.0,332.5 553.2,333.2 553.5,331.8 553.3,329.9 553.6,331.4 553.6,328.4 553.5,327.2 553.4,328.4 554.1,327.7 553.5,326.4 554.4,323.3 553.7,320.8 553.8,321.7 553.8,320.2 554.0,320.8 554.4,315.6 554.4,315.2 554.8,314.9 554.3,314.0 554.5,310.4 554.7,310.4 554.6,311.0 554.7,308.1 554.9,308.1 554.7,308.5 554.5,306.1 555.0,305.0 554.9,307.0 555.6,308.7 555.8,307.6 555.5,309.5 556.2,311.0 555.9,311.9 556.4,312.0 556.1,314.1 556.1,313.8 556.8,317.9 557.1,319.7 557.1,319.6 557.0,320.0 557.4,319.6 556.9,319.0 557.1,318.3 557.8,314.3 557.5,311.5 557.9,311.8 558.1,312.2 558.0,313.0 558.1,307.6 558.5,306.6 558.0,308.0 558.2,306.0 558.6,306.4 559.0,309.0 558.3,310.0 558.4,311.7 559.2,313.7 559.4,314.5 559.6,314.4 559.3,315.8 559.3,315.6 559.3,314.6 559.4,319.4 560.1,320.4 560.0,321.6 559.9,321.0 560.4,321.6 560.8,324.2 560.5,325.0 561.4,323.0 561.3,324.5 562.1,323.8 562.5,320.0 562.9,322.4 562.5,322.0 562.8,323.4 563.3,322.6 563.0,325.5 562.9,328.1 563.4,326.6 563.2,327.5 563.1,327.8 563.7,330.2 563.9,334.7 563.8,333.5 564.0,333.4 563.7,338.1 564.4,337.0 564.4,339.5 564.8,340.2 564.3,342.2 565.1,342.0 564.5,342.9 564.5,344.5 565.0,345.0 565.3,342.9 565.7,341.5 565.5,342.6 566.0,342.1 566.1,340.7 566.0,338.2 567.0,337.1 566.4,337.4 567.0,335.0 566.9,335.2 567.3,337.7 567.4,336.9 567.9,339.5 568.0,340.1 568.1,342.5 568.4,340.6 567.9,341.6 568.0,344.5 568.6,343.8 568.5,346.7 569.3,350.6 569.3,349.7 569.8,349.7 569.3,350.1 570.0,351.7 569.7,353.8 570.0,355.0 570.6,355.8 570.8,356.2 570.8,359.3 571.0,359.0 571.2,360.4 571.6,362.4 572.2,362.0 572.2,363.7 572.4,366.8 573.1,366.2 573.0,367.5 573.3,367.4 573.3,365.2 573.0,364.9 573.7,364.0 573.5,362.7 573.5,360.7 573.7,358.5 573.9,358.7 573.7,356.8 573.5,353.9 573.4,356.4 573.4,355.0 574.2,352.7 574.2,350.4 574.0,348.4 574.3,351.1 574.1,348.4 574.3,348.7 574.2,348.0 574.4,344.4 574.3,344.5 573.9,345.8 574.2,344.0 574.8,342.5 574.5,339.0 574.5,338.8 574.7,336.2 574.8,338.0 575.0,334.9 574.4,334.1 574.8,333.6 575.3,332.3 575.4,331.3 575.0,330.0 575.5,328.5 575.3,325.9 575.9,327.2 575.8,327.2 576.0,323.4 575.9,323.2 576.7,321.4 576.6,319.0 577.5,321.1 577.0,318.0 577.5,317.5 577.3,315.3 578.1,316.1 578.0,313.3 577.7,314.0 578.7,313.8 578.7,309.7 578.5,310.6 578.6,310.8 578.8,307.8 579.5,306.2 579.4,305.7 579.2,306.5 579.8,302.5 580.3,301.1 580.0,301.0 580.6,300.9 581.6,302.5 582.0,306.0 582.5,305.0 582.5,305.5 582.5,307.8 583.2,309.9 582.9,308.6 583.3,309.1 583.4,309.2 583.7,310.2 583.6,313.8 583.2,313.0 584.2,315.2 584.2,317.7 583.6,316.3 584.3,316.8 584.0,318.7 584.6,322.4 584.5,322.3 584.7,323.2 584.6,324.7 584.7,325.7 585.0,327.5 584.8,327.8 585.5,328.8 585.3,329.5 585.9,333.6 586.0,333.5 586.6,336.4 586.7,336.4 586.8,337.7 586.9,337.5 587.2,338.9 587.5,340.0 588.0,338.9 588.7,339.0 588.4,335.1 589.2,335.0 588.9,335.6 589.6,338.1 589.3,337.7 590.0,341.0 589.9,341.8 589.8,343.2 590.0,342.6 590.5,345.9 590.5,347.6 590.0,344.4 590.4,349.5 590.3,348.9 590.6,351.6 590.2,353.6 590.3,354.8 590.7,351.8 590.6,354.5 591.5,355.5 591.4,356.2 591.2,357.5 591.5,358.9 591.6,358.6 592.0,362.7 592.0,360.9 592.1,363.3 592.5,364.8 592.3,363.1 592.5,367.2 593.2,365.7 593.6,367.9 593.0,370.3 593.3,371.7 593.8,372.5 594.0,372.3 593.5,371.4 594.3,367.4 593.8,365.9 593.8,364.2 594.7,365.4 594.1,363.8 594.1,365.2 594.6,363.5 594.1,363.9 594.6,361.1 594.5,360.8 594.5,359.1 595.4,357.2 595.0,356.0 594.9,356.6 595.3,359.3 595.0,358.2 595.1,359.4 595.6,362.8 595.7,365.1 595.5,364.9 595.7,366.4 595.7,364.1 595.9,366.4 595.5,366.0 595.9,371.7 595.7,370.2 596.6,372.3 596.3,371.4 596.6,373.9 596.2,375.6 596.7,374.8 596.9,375.1 596.4,375.9 597.1,379.2 597.1,381.5 597.1,383.4 597.3,381.4 596.8,382.7 596.7,383.6 597.1,387.5 596.9,386.7 597.5,389.5 597.5,390.0 597.2,392.4 597.6,391.1 597.6,391.8 598.2,392.8 598.0,393.8 598.3,396.8 598.6,396.2 598.6,399.0 598.4,400.2 598.7,402.1 598.7,402.1 599.4,404.9 599.5,405.0 599.7,403.7 599.4,404.2 600.0,401.3 600.2,399.6 599.6,401.2 600.0,397.2 600.6,398.0 600.8,396.9 600.4,393.1 600.9,394.9 601.2,390.4 601.2,391.8 601.1,389.4 601.5,389.8 601.2,387.5 601.7,389.0 601.8,391.4 602.1,391.8 601.7,390.6 601.5,393.2 601.6,395.7 601.9,396.3 602.4,395.7 602.3,395.9 603.0,400.3 602.5,398.9 602.5,401.9 602.6,404.1 602.8,403.8 602.7,401.9 603.1,403.0 603.8,405.5 603.1,408.0 603.4,409.4 603.8,410.0 604.1,408.9 604.4,408.8 603.9,406.5 604.0,405.0 604.3,405.4 604.1,404.3 605.0,403.7 604.8,399.6 604.3,397.8 604.6,397.9 605.1,398.6 605.6,397.4 604.8,393.1 605.3,391.4 605.6,394.2 605.9,392.3 605.3,390.1 605.3,390.1 605.5,387.5 605.6,386.2 605.8,386.1 606.2,385.0 606.9,384.3 606.6,382.1 607.5,382.6 607.7,382.8 608.4,380.4 608.8,379.3 608.8,377.5 609.2,378.1 609.2,380.2 609.4,378.5 609.8,380.5 609.9,383.0 609.8,382.0 610.5,385.7 610.8,389.2 610.8,387.2 611.3,388.8 611.2,390.0 611.7,390.8 611.3,392.1 611.3,393.2 611.1,396.3 611.2,395.4 611.3,397.5 611.7,396.0 612.1,399.1 611.7,399.7 612.3,400.3 611.6,400.5 612.1,405.0 611.8,402.7 612.5,407.2 612.5,404.5 612.3,405.8 612.0,409.0 612.4,412.1 612.8,409.5 612.2,410.1 612.7,413.4 613.1,415.6 612.4,414.6 612.9,416.6 613.0,417.5 613.6,418.1 613.5,418.5 613.9,418.5 613.8,424.0 614.0,422.5 614.3,426.2 614.2,423.3 614.4,424.3 614.8,429.6 614.7,428.0 614.5,429.3 615.0,431.0 615.6,430.7 615.5,428.2 616.2,428.7 615.9,426.7 616.2,423.6 616.9,426.0 617.1,424.2 617.5,422.5 617.3,421.1 617.8,421.8 618.0,418.0 618.1,418.3 618.2,418.4 618.6,418.0 618.4,414.6 618.3,412.9 618.6,411.7 618.5,410.5 619.0,411.9 619.2,410.3 619.1,407.6 618.9,405.7 619.5,404.1 619.1,405.9 619.0,403.4 619.5,402.5 619.8,402.6 619.5,406.1 620.3,405.0 620.6,405.5 620.4,407.3 620.5,407.7 620.6,409.9 620.6,412.8 621.5,413.8 621.1,413.3 621.2,413.7 621.9,417.0 622.0,417.5 622.2,415.2 622.2,415.4 622.5,412.2 623.2,412.0 623.4,411.1 623.3,412.7 623.7,408.1 623.7,406.3 623.4,405.2 623.7,405.7 624.3,407.8 624.8,406.4 624.7,404.4 625.1,402.2 625.0,401.0 624.9,402.7 625.4,403.5 626.0,404.6 626.1,406.6 626.6,408.4 626.2,406.0 626.4,406.4 626.8,411.9 627.2,411.3 627.5,412.5 627.5,411.5 627.7,411.3 628.4,410.9 628.3,405.6 628.8,404.3 628.4,403.0 628.9,405.4 629.0,404.3 628.9,402.4 629.2,400.8 629.2,400.5 629.5,397.7 630.0,397.5 630.4,396.3 631.0,392.9 630.7,395.5 631.4,391.5 631.1,394.2 632.0,392.5 631.7,392.0 631.9,387.6 632.5,387.5 633.1,385.5 632.9,386.6 632.9,382.5 633.4,381.3 633.7,382.6 633.6,380.4 633.7,379.2 634.2,378.0 634.1,378.2 634.1,376.4 634.5,373.1 634.4,373.1 635.0,372.5 635.2,369.9 635.9,372.0 635.7,367.0 635.9,367.1 636.5,364.9 636.6,367.3 636.6,363.4 637.5,361.9 637.5,362.5 638.2,362.0 638.1,366.2 638.8,364.9 639.5,367.5 639.8,367.0 639.7,364.7 639.8,363.5 639.7,364.5 640.5,363.8 640.6,361.7 640.0,362.2 640.1,361.6 640.2,359.6 640.6,355.8 641.0,357.0 641.3,353.2 641.0,354.4 640.9,351.0 641.2,351.0 641.4,351.4 641.8,354.9 641.5,356.4 642.3,354.6 642.0,355.9 642.1,355.6 642.8,358.4 643.0,359.7 642.7,360.4 643.2,363.2 643.4,363.9 643.8,365.0 643.6,365.5 644.0,366.3 644.0,366.2 644.2,369.1 644.8,372.6 645.1,371.8 645.0,370.5 645.6,375.2 645.6,375.3 646.0,377.1 646.2,377.5 646.8,379.6 646.8,381.5 646.8,382.1 647.1,382.5 647.5,383.5 647.0,386.3 647.7,387.2 648.2,387.5 648.0,385.7 648.6,388.1 648.4,388.8 648.8,390.2 648.8,392.5 649.3,393.3 649.8,393.6 649.6,393.0 650.5,397.6 650.3,399.4 651.1,397.6 651.2,400.0 650.9,399.3 651.5,399.3 651.6,394.8 651.3,394.2 652.2,396.0 651.9,391.3 652.2,390.4 652.0,388.4 652.3,388.7 652.5,387.9 652.9,389.4 653.0,388.1 652.5,384.1 653.0,383.5 653.0,382.5 653.0,383.9 653.0,386.3 652.9,384.4 653.6,385.5 653.1,389.6 653.4,388.1 654.1,391.7 653.4,390.5 654.3,394.9 654.0,395.2 654.4,396.4 654.0,396.3 654.5,397.3 654.5,397.4 654.9,397.5 654.3,399.0 655.1,403.2 655.1,404.3 655.2,404.9 655.0,405.0 654.9,406.5 655.9,408.4 655.4,410.3 656.3,407.5 656.8,410.2 656.6,414.1 657.1,413.9 657.1,414.6 657.5,415.0 657.3,416.7 658.2,419.0 658.1,420.3 658.4,418.3 658.7,421.4 658.4,419.9 658.8,422.1 659.1,422.6 659.7,424.7 659.9,427.5 660.0,427.5 660.6,425.0 660.8,425.5 660.7,424.8 660.7,422.3 661.0,422.7 662.1,421.9 662.0,420.7 662.7,419.7 662.5,417.5 663.1,419.5 662.3,419.8 663.0,421.3 663.2,423.7 662.7,422.6 663.5,425.8 663.6,428.0 663.9,428.6 663.7,430.4 663.8,431.1 663.9,427.6 664.6,429.7 664.1,431.2 664.1,433.9 664.5,433.5 664.8,434.0 665.1,436.0 665.0,437.5 665.8,437.9 665.7,437.9 665.6,439.0 666.8,440.5 666.8,441.6 666.9,443.9 667.5,445.0 667.3,444.0 667.7,442.1 668.4,443.1 668.5,441.7 668.9,441.4 668.5,436.2 669.4,438.0 669.6,438.6 669.6,433.7 669.9,433.9 670.0,432.5 670.7,430.5 670.3,430.2 670.7,431.5 671.2,426.4 671.1,425.6 671.7,424.8 672.0,423.9 672.6,425.9 672.8,425.2 673.0,420.9 673.0,418.7 672.8,417.9 673.1,419.6 673.8,417.5 673.9,419.2 674.2,418.4 674.4,419.1 674.1,422.8 673.8,422.9 673.9,425.1 674.9,425.5 674.2,427.3 674.8,428.7 675.0,427.8 674.8,429.9 674.7,430.9 675.4,430.7 675.4,432.0 675.0,433.2 675.8,432.4 675.9,437.1 675.1,437.9 675.2,436.8 675.9,439.8 675.7,442.4 675.7,441.0 675.6,441.7 676.1,443.8 676.2,445.0 677.2,443.4 677.6,441.9 677.4,442.0 678.4,438.9 678.8,440.0 678.4,439.6 678.6,438.5 679.3,437.5 678.8,436.6 679.5,433.2 679.6,435.2 678.8,432.8 679.7,430.6 679.2,427.8 679.8,426.3 679.1,426.7 679.3,425.9 679.8,425.2 679.3,425.3 679.4,423.8 680.2,422.1 680.2,420.0 679.9,418.7 679.6,420.3 680.2,418.4 680.6,417.8 680.0,416.6 680.3,413.9 680.5,413.0 680.5,412.5 681.8,409.3 682.2,410.1 683.8,410.0 684.5,409.6 684.8,413.6 685.3,412.9 685.4,412.5 685.3,417.4 685.5,414.8 686.2,417.5 686.8,414.9 686.8,415.4 687.2,412.1 687.0,410.8 687.7,412.0 688.2,412.3 688.0,407.9 688.4,406.3 689.1,405.1 689.3,406.4 689.2,405.0 689.8,406.1 689.9,408.7 689.5,410.3 689.6,409.0 690.1,412.0 690.1,414.5 690.9,413.0 690.9,416.5 691.3,417.1 691.2,415.9 691.2,417.5 691.8,414.7 692.0,417.3 692.4,412.8 692.6,410.7 693.0,409.6 693.6,412.0 693.8,410.0 693.9,412.1 693.6,412.2 694.3,414.5 694.0,414.2 694.1,415.3 694.2,414.7 694.4,417.1 695.0,420.5 695.1,422.2 695.0,419.7 695.4,423.8 695.6,424.4 695.4,422.5 696.1,425.1 696.0,428.2 695.7,427.4 696.2,429.0 696.6,430.3 696.8,433.6 697.0,431.3 698.2,431.1 698.0,436.0 698.8,436.0 699.1,435.7 699.4,436.7 699.8,441.2 700.0,439.6 700.4,440.3 700.8,441.2 701.1,444.4 701.4,444.5 701.2,446.0 701.5,445.1 702.1,444.4 702.3,440.5 703.0,441.4 703.8,440.0 704.5,437.1 705.0,435.4 705.1,434.9 706.1,436.9 706.2,434.0 707.0,434.1 707.2,432.4 707.1,431.3 707.1,428.6 707.3,428.5 708.1,427.9 707.7,427.2 708.1,422.9 708.8,423.2 708.8,422.5 709.6,421.8 710.5,421.4 711.2,420.0 711.5,419.4 711.5,418.1 711.9,414.7 712.6,417.2 712.5,413.5 712.6,413.2 713.1,410.4 712.8,408.5 713.0,408.6 713.1,407.6 713.8,407.5 713.8,406.3 714.6,406.1 714.8,405.0 715.0,403.9 715.7,402.1 716.1,400.0 716.2,400.0 716.8,399.0 716.5,398.2 716.3,397.8 716.6,395.2 716.9,395.6 717.3,391.9 716.9,394.5 717.1,394.0 716.7,389.8 717.3,386.4 717.4,388.5 717.4,388.2 717.6,387.0 717.7,385.3 717.8,384.1 718.0,381.0 717.8,381.5 718.0,380.0 718.5,382.9 719.1,380.7 719.3,382.1 719.9,385.9 720.4,386.1 721.2,386.0 722.6,385.1 723.3,381.6 723.8,382.5 724.4,382.1 724.1,386.0 724.3,386.9 724.4,385.5 725.1,387.7 724.9,387.3 725.1,390.1 725.4,393.2 725.9,392.2 725.5,394.4 726.2,395.4 726.2,395.1 726.2,397.5 726.8,398.2 727.5,397.7 728.4,399.9 729.0,401.9 730.0,402.5 730.3,401.9 731.0,402.0 731.5,398.1 731.2,398.2 731.9,396.1 732.0,396.0 732.3,396.8 732.7,397.2 732.9,398.0 732.6,400.1 732.9,402.1 733.1,403.2 733.5,406.4 733.9,403.7 733.2,404.7 733.8,407.5 733.7,407.0 733.8,403.8 734.5,403.9 734.1,400.7 734.1,399.1 734.7,399.5 735.0,402.1 735.1,400.9 735.3,400.1 735.2,395.6 735.1,395.2 735.6,396.5 735.8,392.3 735.7,393.1 735.7,391.4 736.2,390.0 736.3,388.1 737.1,387.7 737.5,385.4 737.9,385.9 737.9,387.2 738.4,385.7 738.8,382.5 739.4,382.4 740.8,379.2 741.1,378.3 742.5,380.0 742.8,377.4 742.7,376.2 743.1,377.7 743.6,373.8 743.8,376.6 743.9,373.2 744.4,373.1 744.1,372.5 744.2,371.1 744.8,367.7 745.0,367.5 746.0,366.3 747.3,367.4 748.1,368.8 748.8,370.0 750.0,372.2 751.2,370.0 751.6,372.3 751.5,372.0 752.6,374.2 752.3,375.6 752.7,375.9 753.4,376.2 753.4,376.1 753.8,379.0 753.6,377.6 753.9,377.5 754.1,375.2 754.5,374.8 754.7,374.2 755.0,373.6 755.2,369.0 755.2,368.1 755.6,370.5 755.5,368.5 755.7,366.7 756.2,365.0 757.1,363.4 759.1,361.7 760.0,364.0 760.3,364.2 761.2,359.6 761.0,361.1 761.5,361.0 762.6,357.2 762.6,358.4 763.6,356.3 763.8,355.0 764.1,354.2 763.9,351.4 764.6,349.8 764.8,350.8 765.2,350.2 765.3,349.2 765.7,348.9 766.4,347.5 766.2,345.0 766.7,344.9 766.7,343.6 766.4,340.5 766.8,341.1 767.3,339.9 767.3,338.7 767.4,335.7 768.2,336.6 767.8,333.8 768.1,333.1 768.6,332.8 768.9,332.0 768.8,330.0 769.6,329.9 769.4,327.8 769.6,327.6 770.1,327.5 770.6,325.2 770.4,323.1 771.2,322.5 771.7,322.4 771.9,326.6 773.2,327.9 773.0,328.1 773.8,327.5 774.3,325.3 773.8,323.7 774.3,325.6 774.6,324.8 774.4,320.6 774.5,318.5 775.0,319.4 775.0,317.5 774.8,315.5 775.2,313.8 775.5,315.3 775.8,313.8 775.6,314.1 775.4,313.8 775.9,310.3 776.4,310.0 775.7,309.1 776.2,307.5 776.6,308.3 777.3,304.2 777.8,304.7 777.7,303.5 778.3,302.0 778.8,301.0 779.1,301.6 779.1,301.4 779.2,302.1 780.2,305.3 780.7,306.1 780.8,308.2 781.3,308.2 781.2,310.0 781.9,308.3 782.4,306.4 782.0,307.5 782.4,307.0 782.9,304.2 783.3,302.9 783.8,302.5 784.9,300.1 786.5,299.1 787.5,301.0 788.0,299.2 788.5,298.3 788.4,299.6 788.9,298.6 788.7,298.0 788.6,295.3 789.1,292.7 789.0,292.7 789.3,291.9 790.0,290.0 790.2,288.8 790.6,289.4 790.8,285.1 791.0,284.0 791.5,283.8 791.1,283.0 792.0,281.3 791.5,280.5 792.0,280.0 792.4,281.1 792.2,284.3 793.0,282.8 793.3,284.3 793.0,286.4 793.4,284.5 793.6,286.6 793.9,288.1 794.5,290.0 794.9,287.1 794.9,288.8 795.8,284.8 795.6,283.2 796.1,284.2 796.6,284.6 797.0,282.5 797.1,283.8 797.8,282.8 798.0,285.0 797.8,284.9 797.8,288.1 798.8,287.1 799.1,292.4 799.0,292.1 799.0,293.2 799.4,292.9 799.5,295.0 800.3,295.7 800.5,294.7 801.6,295.8 801.7,298.8 802.6,301.7 803.0,300.8 803.8,302.5 803.7,301.9 804.9,302.2 804.9,307.4 805.2,309.5 805.2,309.4 806.0,309.0 806.4,309.8 806.8,310.8 807.0,312.5 807.3,310.4 807.6,309.7 807.6,306.7 807.8,308.7 808.8,306.8 808.9,306.2 809.4,306.0 809.1,303.1 809.0,303.3 809.5,301.2 810.0,300.0 810.5,299.1 810.6,299.5 810.4,297.9 811.5,296.6 811.4,295.2 811.6,293.5 811.7,290.7 812.2,291.9 812.5,290.0 813.1,289.1 813.6,293.4 814.4,291.6 814.5,292.4 815.0,295.0 815.5,293.7 816.4,292.1 817.5,292.5 817.3,292.5 818.1,295.1 818.6,294.7 818.4,296.5 818.8,300.3 819.1,299.5 818.9,301.7 819.5,299.6 819.6,303.5 820.0,302.8 820.0,305.0 820.6,304.9 820.7,307.5 820.7,306.2 820.7,310.3 821.3,308.3 821.8,313.2 821.5,311.7 822.5,314.9 822.5,315.0 823.2,316.9 823.9,317.7 825.1,315.4 826.2,317.5 826.0,317.6 826.9,314.1 826.7,315.2 827.5,310.9 827.8,313.9 827.2,311.3 828.0,310.9 828.3,310.3 828.7,307.5 828.5,306.0 828.8,305.0 829.5,304.6 830.2,303.6 830.6,300.9 830.6,302.5 831.2,300.0 831.5,299.8 832.1,302.5 832.0,303.7 831.7,305.8 832.2,306.6 832.2,305.4 832.8,307.0 832.6,309.0 833.0,310.0 833.6,309.8 833.9,313.1 833.5,315.0 834.1,313.7 834.8,314.5 834.3,315.1 834.6,317.4 835.5,316.6 835.7,320.4 836.0,320.1 836.2,322.5 836.2,323.5 836.2,323.5 836.5,325.7 837.0,327.6 837.0,327.2 837.3,328.1 837.3,329.1 837.6,332.4 837.5,333.0 838.1,332.0 838.1,332.7 837.8,329.1 837.9,328.9 838.0,325.5 838.5,326.5 839.1,327.0 838.8,324.0 838.7,321.7 839.7,319.9 839.5,320.0 839.2,318.1 839.7,319.4 839.9,318.2 839.6,318.1 840.3,314.5 840.7,310.7 840.6,310.7 840.2,308.4 841.0,307.1 841.2,310.2 840.6,307.6 841.1,307.0 841.2,305.0 841.6,304.8 841.4,303.2 841.5,299.8 842.0,299.8 842.0,301.6 842.3,299.9 843.2,295.2 843.2,294.2 843.2,294.9 843.2,293.2 843.8,292.5 843.9,292.0 844.6,290.9 844.5,287.1 845.3,287.0 844.9,287.4 845.0,285.7 845.3,284.8 846.0,282.4 846.2,282.5 846.3,281.4 846.8,280.8 846.9,280.4 847.6,280.1 847.8,275.7 848.0,276.4 848.8,275.0 849.7,277.2 850.8,274.9 852.5,275.0 853.4,276.0 853.2,275.8 854.1,278.7 854.5,280.0 854.4,278.0 854.6,277.9 855.2,274.8 855.5,277.0 855.1,276.5 855.6,272.7 855.8,272.7 855.6,271.5 855.6,268.7 856.2,266.4 856.7,265.3 856.2,268.7 856.8,268.3 856.7,262.5 856.8,262.5 856.9,260.7 857.3,259.7 857.5,260.0 857.5,258.6 858.4,259.7 858.6,257.0 858.9,254.8 858.7,255.8 859.0,254.8 859.4,250.9 859.9,249.7 860.0,250.0 860.8,249.2 861.8,253.0 862.5,252.5 863.1,253.1 863.4,251.7 864.0,250.5 864.1,248.9 864.3,247.5 864.5,247.7 865.0,245.0 865.5,245.0 866.2,246.3 866.0,249.3 867.0,250.0 867.2,250.4 867.4,251.8 867.0,253.2 868.0,255.6 867.8,253.8 867.9,257.2 867.9,258.1 868.4,261.8 868.5,260.4 868.6,262.3 868.1,264.7 868.4,263.3 868.8,265.0 869.3,264.7 869.1,261.8 869.5,263.2 869.9,261.1 869.3,261.5 869.7,260.8 870.3,257.9 870.1,254.9 870.8,256.6 870.3,256.0 871.1,253.1 871.3,252.5 871.2,250.0 871.7,250.5 873.0,252.5 872.9,250.5 873.1,250.3 873.0,247.8 873.9,248.7 873.7,245.1 873.7,248.0 874.3,245.2 874.5,241.2 874.5,243.6 874.4,240.7 874.1,242.5 874.8,237.3 874.5,240.1 874.9,235.8 875.1,236.8 874.8,235.4 875.4,232.9 875.5,232.5 875.5,232.1 876.0,228.4 876.4,228.5 876.5,226.4 877.7,227.6 878.0,226.6 878.0,225.0 878.4,225.0 878.9,226.3 878.9,228.7 879.5,231.6 879.3,229.0 879.7,229.3 880.1,231.2 879.8,233.3 880.5,235.0 880.3,234.9 880.9,232.0 881.3,229.2 880.9,231.2 881.1,230.1 881.2,228.4 881.7,226.0 882.1,226.0 882.0,226.6 882.0,223.4 882.5,222.5 882.6,222.0 882.7,219.2 883.5,218.5 883.7,217.5 883.7,216.6 883.8,214.4 883.7,215.5 884.1,213.3 884.4,211.4 884.8,210.1 885.0,210.0 885.0,209.6 885.2,211.0 886.0,214.9 885.7,216.8 886.2,214.4 887.0,216.7 887.3,219.7 886.7,216.9 887.4,219.3 887.6,219.8 888.0,222.5 888.7,219.9 888.5,218.6 889.4,217.2 889.4,215.8 889.6,215.2 890.4,218.1 890.4,216.1 891.3,215.3 891.2,212.5 891.3,212.1 891.8,208.3 892.4,208.8 892.7,210.6 893.1,206.0 892.5,206.3 893.6,203.4 893.7,204.4 893.8,202.5 893.8,204.4 894.6,206.9 895.3,207.3 895.8,206.7 896.2,207.5 897.1,208.4 897.6,205.3 897.6,202.8 897.8,202.5 898.8,202.5 898.6,203.2 899.6,206.8 899.2,206.1 900.1,205.8 899.8,206.8 900.5,208.6 900.6,208.5 901.2,211.4 901.2,212.5 901.9,211.1 901.9,209.2 902.3,206.7 901.8,207.8 902.8,208.4 903.0,204.0 902.7,206.7 903.3,205.2 903.2,202.8 903.8,200.6 903.8,200.0 905.1,201.9 905.7,199.2 906.3,202.6 907.5,202.5 908.2,201.9 908.4,205.7 908.5,205.0 908.5,208.3 909.5,209.2 910.1,208.9 910.0,210.0 910.7,209.4 910.6,206.4 911.1,205.5 911.9,206.8 912.1,206.9 912.4,205.6 912.5,202.5 912.2,204.4 912.7,204.6 913.2,204.2 912.7,206.1 913.1,205.7 913.6,208.0 913.2,210.8 913.0,209.7 913.6,213.2 913.6,213.7 914.1,214.3 913.6,213.5 913.8,218.1 914.0,217.4 914.4,218.3 914.3,218.9 914.2,221.8 914.5,222.5 914.5,224.3 914.4,225.4 914.9,225.3 914.9,227.6 915.1,226.0 915.0,231.0 915.4,229.4 915.1,230.3 915.7,230.6 915.9,235.8 916.1,236.0 915.7,238.1 916.5,237.4 916.3,240.0 916.2,240.0 916.3,239.4 916.5,236.2 917.0,235.0 917.1,235.9 916.7,236.4 917.0,231.9 918.0,231.1 918.1,230.5 917.8,227.9 918.0,229.7 918.5,228.3 918.1,226.7 918.8,225.0 919.6,225.7 919.4,226.8 920.1,231.2 920.5,230.0 920.6,229.6 920.6,228.4 920.7,225.9 921.2,224.1 920.8,222.2 921.7,223.1 921.5,223.8 921.2,222.7 921.2,220.4 921.3,219.2 921.5,216.0 922.0,215.8 921.7,214.5 922.7,213.2 922.8,214.7 922.5,212.5 922.6,210.3 922.8,212.1 923.7,207.7 924.3,210.4 924.1,209.2 925.1,207.1 925.0,205.0 925.7,205.3 925.8,204.3 925.8,203.0 926.5,201.1 925.9,199.9 927.0,198.1 926.9,198.2 927.5,197.6 927.5,195.0 928.0,193.2 927.7,194.6 928.5,194.3 928.5,192.9 929.1,189.0 929.8,187.5 930.0,187.5 931.0,189.6 931.3,191.5 932.5,190.0 932.8,188.4 933.4,189.3 933.9,189.5 934.2,186.3 934.3,186.4 935.0,184.4 935.0,182.5 934.9,185.2 935.6,182.9 935.3,187.6 936.1,189.5 935.7,187.7 936.2,190.0 936.5,189.2 937.0,186.7 937.0,185.3 936.5,187.6 937.1,185.9 937.1,185.8 937.1,182.2 937.3,183.0 937.2,182.5 937.4,181.4 938.4,179.5 938.2,176.2 937.9,175.3 938.4,175.8 938.2,174.5 938.8,172.5 938.6,170.6 938.5,171.1 939.0,167.1 939.5,166.9 939.1,168.4 939.3,167.0 939.7,165.9 939.7,161.2 939.8,161.3 940.1,161.0 940.1,159.2 940.3,159.9 939.9,156.4 940.8,155.5 940.5,155.0 941.2,153.4 941.3,155.0 941.7,151.3 942.2,150.5 942.2,149.4 942.5,149.2 942.8,146.1 943.0,146.0 943.5,146.7 943.3,149.5 943.7,148.9 944.2,152.8 945.0,151.7 945.2,154.2 944.8,154.0 945.5,155.0 945.3,153.5 945.8,152.2 946.5,151.4 946.0,150.5 946.6,147.6 946.6,147.9 946.8,146.9 947.1,146.7 947.2,142.4 947.5,142.0 947.9,142.0 948.0,142.4 948.0,140.0 948.4,139.6 948.9,136.0 949.0,134.9 949.2,135.9 949.8,136.5 949.7,135.5 950.5,132.5 950.6,131.4 951.2,130.5 951.8,129.4 951.5,127.4 952.0,127.7 952.6,124.5 952.5,124.0 952.4,124.0 953.5,126.1 953.7,129.0 953.8,129.1 953.7,128.4 954.7,129.9 955.1,131.6 955.0,132.5 955.2,134.4 955.1,135.2 955.6,137.5 955.8,135.7 955.4,138.8 955.6,140.5 955.8,141.5 956.3,142.2 956.0,144.6 956.3,143.4 955.8,145.5 956.1,146.0 956.1,147.7 956.3,147.2 956.7,148.2 956.9,151.3 957.1,151.9 957.0,152.5 957.8,150.8 958.8,150.0 958.5,151.4 959.3,153.0 958.5,154.7 958.8,156.3 959.2,154.2 958.9,155.6 959.3,158.1 959.3,159.1 959.6,160.5 959.6,162.2 959.5,164.0 959.2,164.2 959.6,162.3 959.5,166.0 959.6,169.0 959.8,167.9 959.6,171.2 960.1,168.9 959.9,170.1 960.5,170.3 960.3,172.6 960.7,173.3 960.5,174.1 960.5,175.2 960.5,177.5 961.1,175.5 961.2,174.6 960.8,171.4 961.1,174.9 961.2,169.5 961.7,169.4 961.6,168.7 962.0,168.0 962.0,169.0 962.2,169.3 962.3,171.5 962.2,173.5 962.8,172.5 962.3,172.6 962.4,175.1 962.9,175.4 962.7,176.9 962.4,179.6 962.5,180.1 963.1,181.7 963.4,184.5 963.0,182.0 963.0,185.5 963.2,188.4 962.8,189.4 963.5,188.0 963.4,190.9 963.7,192.1 963.7,191.5 963.2,192.8 964.0,194.8 963.8,195.0 963.6,197.4 963.5,198.6 963.9,198.7 964.1,199.7 964.3,201.1 964.6,203.4 964.3,202.2 964.5,202.8 964.8,204.9 965.4,207.9 964.8,206.8 964.7,208.9 964.8,210.6 965.5,211.6 965.5,212.5 966.0,211.2 965.2,209.7 965.5,207.8 966.0,208.6 966.2,206.4 965.7,204.2 966.0,204.7 965.9,205.0 966.2,204.7 966.3,202.6 966.3,198.9 965.9,201.1 966.2,197.4 966.7,195.5 966.2,196.3 967.0,195.7 966.2,191.4 967.1,192.5 966.8,191.5 966.9,189.6 967.0,191.0 967.0,189.4 967.3,188.6 967.0,185.9 967.7,183.8 966.9,183.7 967.3,182.3 967.2,181.4 967.5,180.0 967.6,180.0 967.5,179.2 967.8,178.7 967.8,176.0 968.0,176.6 967.9,173.6 968.0,171.8 968.0,170.5 968.2,167.4 968.6,165.9 968.9,165.5 968.4,165.4 968.8,165.0 968.7,163.9 968.9,163.5 968.9,163.7 969.9,158.4 969.5,159.9 969.8,158.9 969.9,157.1 970.4,156.0 970.2,156.4 970.7,154.1 970.8,153.8 971.5,152.3 971.2,150.0 971.6,151.0 972.3,154.5 972.9,153.7 973.1,154.9 973.3,156.3 973.6,156.1 974.5,157.5 975.2,159.8 975.8,161.4 975.4,162.7 976.2,162.5 976.7,163.3 976.8,163.6 976.2,166.6 976.8,166.1 976.2,168.6 976.5,169.4 976.9,172.1 976.8,169.2 977.4,169.7 977.3,175.3 977.6,172.5 977.4,174.4 977.4,178.2 977.2,176.4 977.2,180.2 978.0,179.9 977.4,181.0 977.7,183.4 977.8,185.4 978.3,186.9 978.1,184.7 977.8,186.7 978.1,190.1 977.9,190.1 978.9,192.2 978.1,192.4 978.5,193.3 978.4,193.9 978.8,195.0 979.2,192.9 979.3,192.9 979.1,192.7 979.1,190.8 979.4,190.1 979.4,189.7 979.3,186.6 979.6,183.3 979.9,181.8 980.5,182.5 980.7,180.5 980.7,179.8 980.5,180.0 980.4,178.3 980.6,178.1 980.5,174.7 981.2,176.2 980.9,177.2 981.1,175.2 981.2,172.7 981.9,170.8 981.6,168.8 981.7,171.0 981.9,169.9 982.2,166.4 982.0,166.4 981.9,166.5 982.6,164.7 982.5,162.5 982.7,162.2 982.5,161.4 983.5,160.2 983.6,157.6 983.6,157.8 983.8,157.2 984.1,152.8 984.0,154.5 984.9,152.2 985.1,149.7 985.0,150.0 985.3,148.1 985.9,148.7 986.0,145.8 987.1,145.2 987.3,147.1 987.7,144.6 988.0,142.5 988.3,145.5 989.6,143.0 990.0,142.8 991.0,145.7 991.2,147.5 991.2,146.7 991.6,143.9 991.8,144.2 991.6,143.5 992.6,141.4 992.2,139.7 993.1,138.0 992.8,140.4 993.0,137.0 993.7,138.4 993.8,138.1 993.3,135.7 993.6,135.3 994.0,133.3 994.4,130.0 994.5,130.0 995.5,129.6 995.9,130.1 995.9,132.4 996.7,133.0 997.5,135.0 998.6,135.4 998.8,135.8 1000.0,132.5 1000.4,130.2 1000.7,128.9 1001.0,129.9 1002.0,127.5 1001.8,128.8 1002.1,129.1 1002.9,130.5 1002.6,133.0 1002.5,135.7 1003.1,132.9 1003.3,136.4 1003.5,136.5 1003.8,136.5 1003.8,139.6 1004.1,139.9 1004.3,140.5 1004.5,141.5 1004.2,142.2 1004.4,144.0 1004.5,145.0 1004.9,144.7 1004.8,142.0 1004.6,141.6 1005.1,139.1 1005.0,141.1 1004.5,138.9 1004.8,136.4 1004.9,133.8 1005.0,133.9 1004.8,131.4 1005.2,134.6 1005.2,130.5 1005.3,129.6 1005.6,127.5 1005.5,130.2 1005.8,129.7 1005.5,126.5 1005.5,125.9 1005.6,121.7 1005.9,123.9 1006.1,119.3 1005.8,117.8 1005.7,117.4 1006.1,116.8 1006.4,117.6 1005.7,116.0 1005.7,113.5 1005.9,112.6 1006.2,112.5 1006.4,109.9 1007.1,111.6 1008.0,108.9 1008.2,107.5 1008.4,107.8 1008.6,107.9 1008.8,112.6 1009.1,111.4 1009.1,113.2 1009.5,115.1 1009.9,117.7 1009.9,119.4 1010.1,119.2 1009.7,117.8 1010.1,121.3 1010.6,120.1 1010.5,122.5 1011.4,119.4 1012.4,122.7 1013.8,120.0 1014.0,120.5 1014.6,119.4 1015.4,117.0 1015.5,116.2 1016.2,114.0 1016.1,113.4 1016.9,111.0 1016.7,109.1 1017.1,107.4 1017.1,106.4 1017.3,109.5 1017.1,106.5 1017.4,103.9 1017.6,104.4 1017.8,101.2 1018.5,102.7 1018.4,99.7 1018.8,98.3 1018.6,98.5 1019.2,96.1 1019.5,95.4 1019.5,95.0 1019.5,92.6 1020.6,90.4 1020.1,91.6 1021.1,89.9 1021.6,88.1 1021.7,86.6 1022.0,87.5 1021.9,86.3 1022.4,87.3 1022.8,82.5 1022.9,80.2 1023.0,83.1 1022.6,78.3 1023.6,80.8 1023.8,77.5 1023.2,78.0 1023.8,76.0 1023.4,78.2 1023.7,77.9 1024.1,78.1 1024.6,78.0 1024.4,79.7 1024.8,81.7 1024.5,84.0 1024.6,86.3 1024.4,86.0 1024.9,88.7 1025.3,88.3 1025.2,89.2 1025.0,88.9 1025.0,92.0 1025.8,94.5 1025.6,94.5 1025.5,95.0 1026.0,93.2 1026.0,94.4 1026.4,92.2 1026.1,89.3 1026.8,87.6 1027.3,88.7 1026.9,86.4 1027.5,86.0 1027.4,86.8 1027.9,87.3 1027.8,90.2 1028.3,89.1 1028.2,91.7 1028.8,93.8 1029.4,96.7 1028.8,96.4 1029.2,96.8 1029.2,96.8 1029.9,99.3 1030.0,100.0 1029.9,100.5 1030.5,104.2 1030.4,104.7 1031.0,106.9 1030.6,105.9 1030.7,106.3 1031.7,106.2 1031.3,106.9 1032.2,109.2 1032.0,111.0 1032.0,108.8 1031.8,108.6 1032.0,107.8 1032.3,105.5 1032.6,107.7 1032.6,103.5 1032.6,101.9 1033.2,100.7 1032.9,99.8 1033.5,97.0 1033.2,97.2 1033.9,98.4 1033.2,96.4 1033.8,95.0 1034.1,97.0 1033.8,95.9 1034.1,99.4 1034.7,98.3 1034.1,99.0 1035.0,102.5 1034.2,104.1 1034.5,101.7 1035.3,105.6 1035.2,104.3 1034.7,108.0 1035.1,110.7 1035.7,109.3 1035.6,110.9 1035.7,109.7 1036.1,111.2 1036.0,114.9 1036.5,115.8 1036.3,117.2 1036.2,117.5 1035.9,116.2 1036.1,116.8 1036.7,112.7 1036.7,114.9 1036.4,110.7 1036.9,108.8 1036.9,108.6 1037.7,110.3 1037.1,110.1 1037.2,107.7 1037.6,105.1 1038.0,103.0 1038.2,101.3 1038.1,102.9 1037.8,98.7 1038.7,100.6 1038.5,97.5 1038.9,97.9 1038.3,95.3 1038.8,95.0 1039.2,92.4 1039.4,91.8 1039.6,89.7 1039.6,89.0 1040.3,89.6 1040.4,86.6 1040.0,84.5 1040.2,86.5 1041.2,86.3 1041.2,83.0 1041.2,82.5 1041.9,83.9 1041.4,84.7 1041.5,87.4 1041.7,89.2 1042.3,87.9 1041.9,90.4 1042.8,91.2 1042.6,90.9 1042.9,93.1 1042.7,93.0 1043.1,92.8 1043.4,94.5 1043.5,94.6 1043.8,96.4 1043.5,99.6 1043.8,100.0 1043.8,97.6 1044.9,96.1 1044.4,98.1 1045.2,93.4 1045.6,94.1 1046.2,94.8 1046.2,92.5 1047.1,90.3 1046.9,89.9 1047.1,87.4 1047.5,86.3 1047.8,87.1 1048.0,85.2 1048.8,85.0 1049.4,82.4 1049.3,82.2 1050.0,79.7 1050.1,77.7 1049.9,76.7 1050.4,77.8 1050.8,78.1 1050.6,76.9 1051.2,75.0 1053.0,74.0 1052.9,74.7 1053.1,76.1 1053.0,75.8 1053.0,76.2 1054.0,79.9 1053.3,81.2 1053.7,82.4 1054.1,81.8 1053.8,82.6 1053.8,82.5 1054.1,88.0 1054.3,88.7 1054.2,87.4 1054.3,89.4 1054.1,90.6 1054.3,91.3 1054.8,92.7 1055.2,94.9 1055.0,95.0 1055.1,97.3 1055.6,96.8 1055.2,96.7 1055.7,97.1 1056.0,101.4 1056.0,100.2 1055.8,103.6 1056.2,103.7 1056.4,104.8 1056.0,108.3 1056.2,107.7 1056.7,110.5 1056.3,109.3 1056.7,109.7 1056.8,112.2 1056.9,112.9 1056.9,112.7 1057.0,115.0 1057.4,116.5 1057.1,118.7 1057.9,120.9 1057.9,120.5 1057.5,119.3 1058.0,120.1 1058.0,124.7 1058.6,126.6 1058.0,123.6 1058.6,127.7 1058.8,127.5 1059.2,129.5 1058.5,129.3 1059.5,132.2 1059.4,131.8 1059.8,130.6 1060.0,134.4 1059.5,136.4 1059.8,135.0 1059.9,139.3 1059.7,139.2 1059.9,138.1 1060.2,139.7 1060.2,144.2 1060.7,142.2 1060.4,146.4 1060.7,144.9 1060.5,144.9 1060.8,147.7 1061.4,148.2 1061.2,150.0 1061.4,151.0 1061.8,152.7 1062.1,155.1 1062.0,152.9 1061.6,152.9 1061.7,155.0 1062.0,155.7 1062.6,160.2 1062.5,160.2 1062.7,162.4 1062.7,160.2 1062.9,161.5 1062.8,166.6 1063.3,165.0 1063.1,167.2 1063.5,167.5 1063.2,169.9 1063.8,170.0 1063.9,170.1 1063.9,169.5 1063.7,167.6 1064.4,164.1 1064.4,163.2 1064.6,165.4 1064.8,163.1 1065.3,159.7 1064.5,158.8 1065.0,158.0 1065.2,156.1 1065.8,154.8 1065.5,155.0 1065.8,156.0 1066.6,157.7 1067.3,158.2 1067.5,160.0 1068.0,158.7 1067.8,158.5 1067.9,155.5 1068.0,157.3 1067.6,152.5 1068.0,150.3 1068.1,153.6 1068.0,152.0 1068.1,151.1 1067.7,150.4 1068.2,147.6 1068.2,144.2 1067.8,147.0 1068.5,145.6 1068.8,145.2 1068.5,142.9 1068.4,140.7 1068.4,140.0 1068.6,139.5 1068.7,137.2 1069.0,136.6 1068.8,135.0 1069.0,137.0 1068.5,136.6 1068.6,136.8 1068.7,139.3 1069.4,140.4 1069.6,141.4 1069.3,142.1 1069.1,142.7 1069.2,145.3 1069.4,144.5 1070.2,148.3 1069.6,147.2 1070.0,151.9 1070.4,152.6 1069.8,153.0 1070.5,155.3 1070.7,152.6 1070.1,155.5 1070.2,156.3 1070.5,157.5 1070.5,159.3 1071.1,158.4 1070.6,159.8 1070.6,162.7 1071.1,163.6 1071.7,162.2 1071.0,165.9 1071.6,168.4 1071.9,169.3 1071.6,167.0 1072.2,167.6 1072.1,172.6 1072.6,172.7 1072.2,173.0 1072.8,173.4 1072.5,175.0 1072.2,175.2 1072.1,178.0 1072.6,177.5 1072.5,178.4 1072.8,178.6 1072.4,179.6 1072.8,180.6 1072.7,182.1 1072.8,182.2 1073.1,184.8 1072.5,185.4 1072.3,189.9 1072.8,189.5 1072.5,189.4 1072.4,191.4 1072.6,190.1 1072.6,192.7 1072.8,195.8 1073.0,196.7 1073.4,198.3 1073.1,198.7 1072.6,199.6 1073.0,202.1 1073.3,199.4 1073.5,202.3 1073.0,203.2 1073.5,206.5 1073.1,207.2 1073.4,206.9 1073.1,209.4 1073.2,210.0 1072.9,210.5 1073.0,210.9 1073.2,212.5 1072.9,214.7 1073.1,214.1 1073.6,216.9 1073.1,216.4 1073.8,218.9 1073.8,220.2 1073.2,221.1 1074.1,223.2 1073.7,221.3 1074.3,226.1 1074.2,227.0 1074.3,224.7 1073.7,228.7 1074.3,230.8 1074.5,232.0 1073.8,229.0 1073.9,233.0 1074.5,232.5 1074.2,235.2 1074.6,235.1 1074.6,237.5 1074.5,237.5 1074.3,236.2 1074.7,234.5 1074.3,234.6 1074.7,233.8 1074.7,232.3 1074.2,230.6 1074.8,229.8 1075.2,230.0 1074.4,228.3 1074.7,228.0 1075.2,227.5 1074.4,222.7 1075.0,220.7 1075.0,221.5 1075.0,219.9 1074.6,217.5 1074.7,219.5 1075.1,215.6 1075.4,218.6 1075.2,217.6 1074.7,211.9 1075.1,213.1 1074.6,213.7 1074.7,211.7 1074.8,211.2 1075.4,208.7 1075.5,210.0 1075.0,208.2 1075.3,206.2 1075.4,204.3 1075.2,202.8 1075.5,203.2 1075.8,203.5 1075.0,201.6 1075.4,198.9 1075.8,199.0 1075.0,195.0 1075.9,197.0 1075.6,193.5 1075.4,192.3 1075.7,192.5 1075.5,193.0 1075.6,190.0 1075.7,191.0 1076.1,189.8 1075.9,184.6 1075.7,183.3 1075.3,184.4 1075.9,183.3 1075.8,181.4 1075.5,180.4 1076.3,178.8 1075.9,178.8 1076.2,178.3 1075.8,177.1 1075.8,175.4 1076.4,173.3 1076.0,173.0 1076.0,173.0 1076.0,176.1 1075.8,177.9 1076.3,176.4 1076.7,179.0 1076.8,181.8 1077.1,179.6 1076.6,179.5 1076.3,182.0 1077.3,182.5 1076.8,187.5 1077.2,189.4 1077.2,185.6 1077.0,186.9 1077.0,190.7 1076.9,190.4 1077.2,191.1 1077.1,191.2 1077.2,193.7 1077.4,197.1 1077.3,196.4 1077.5,198.6 1077.8,198.0 1078.0,200.0 1078.6,202.2 1078.4,202.4 1078.8,201.4 1078.4,205.6 1078.4,207.7 1078.7,207.1 1078.8,208.5 1079.0,209.5 1079.0,207.9 1079.5,212.6 1079.8,212.9 1079.5,213.2 1080.0,215.0 1080.3,213.6 1080.1,213.5 1080.0,212.2 1080.5,212.8 1080.3,211.4 1080.7,209.0 1080.8,207.5 1080.9,205.0 1080.8,203.9 1080.7,201.9 1080.5,204.5 1081.0,200.3 1081.3,201.2 1081.4,200.4 1080.9,198.9 1081.1,197.4 1081.4,194.9 1081.5,195.0 1081.5,194.8 1081.7,193.7 1081.7,190.1 1081.8,192.2 1082.1,188.7 1082.2,188.9 1081.9,189.0 1081.9,186.0 1082.2,183.9 1082.4,181.6 1081.9,181.4 1081.9,181.8 1081.7,180.8 1081.8,181.1 1082.5,180.2 1082.5,178.6 1082.3,174.4 1082.6,172.6 1082.1,174.2 1082.0,172.2 1082.6,171.5 1082.5,170.0 1082.8,167.7 1082.6,168.9 1082.9,168.7 1082.9,163.2 1083.2,165.2 1083.6,165.1 1084.1,160.1 1083.7,159.6 1084.0,156.9 1084.4,157.9 1084.2,157.6 1085.2,154.8 1085.0,155.0 1085.4,153.4 1085.5,154.3 1085.3,153.1 1085.7,149.2 1086.4,151.6 1086.2,147.1 1086.1,145.8 1086.9,144.6 1086.6,144.1 1087.1,142.3 1087.0,142.5 1087.4,140.1 1087.0,139.0 1087.2,136.8 1087.3,139.8 1087.8,136.1 1087.9,134.0 1088.2,136.5 1088.2,131.1 1088.3,133.2 1087.8,131.4 1088.4,130.7 1088.7,128.6 1088.4,126.2 1089.0,126.4 1088.8,125.0 1089.2,125.2 1088.9,122.3 1089.0,121.7 1089.0,118.6 1089.1,121.3 1089.7,120.6 1089.8,117.6 1089.1,118.6 1090.1,115.8 1089.6,113.0 1090.2,110.9 1090.0,111.7 1090.4,111.1 1090.2,109.6 1090.1,108.1 1090.4,108.7 1090.0,106.3 1090.5,105.0 1090.4,104.5 1090.9,102.8 1091.3,101.2 1091.9,99.2 1092.0,97.5 1092.3,99.1 1093.0,97.5 1093.4,100.6 1094.3,98.8 1094.4,100.5 1095.0,102.5 1095.2,98.6 1096.0,101.9 1096.6,98.7 1097.0,97.5 1097.1,96.7 1098.0,101.6 1098.7,100.6 1098.8,102.5 1098.9,100.7 1099.4,101.3 1099.7,98.2 1099.2,96.3 1099.6,96.6 1099.7,95.9 1099.6,96.0 1100.2,93.3 1099.9,93.9 1100.3,90.9 1100.5,90.0 1101.0,88.0 1101.2,89.9 1102.3,88.8 1102.2,86.0 1102.9,82.7 1103.2,84.6 1103.8,82.5 1104.4,82.8 1104.5,82.7 1104.8,86.8 1105.3,85.9 1105.7,86.9 1106.2,89.9 1106.2,90.0 1106.1,89.9 1106.9,86.9 1107.3,87.2 1106.7,85.3 1106.9,82.2 1107.4,83.2 1108.2,80.0 1107.9,79.5 1108.2,80.0 1108.6,79.4 1109.0,76.7 1109.0,76.1 1108.9,74.9 1108.5,76.5 1109.1,73.8 1109.3,74.4 1109.0,69.9 1109.1,69.8 1110.0,67.8 1109.5,66.0 1109.9,66.5 1110.0,65.0 1110.1,65.3 1110.5,64.3 1111.2,64.5 1111.0,59.4 1111.4,59.1 1111.8,58.8 1112.1,55.6 1112.1,57.0 1112.5,55.0 1112.9,53.0 1113.4,53.4 1114.2,50.6 1115.0,51.0 1116.5,52.5 1117.5,52.5 1117.4,51.6 1117.6,49.6 1118.3,51.6 1118.4,50.2 1118.6,46.1 1119.3,45.1 1119.3,44.9 1119.5,42.4 1120.0,42.5 1120.3,42.4 1121.5,43.2 1121.3,38.2 1122.0,39.8 1123.0,37.5"/>
<line x1="319.5" y1="552.7" x2="383" y2="552.7" stroke="#e43125" stroke-width="4.7" stroke-linecap="round"/>
<line x1="714.5" y1="552.3" x2="779.5" y2="552.3" stroke="#0a0a0a" stroke-width="2.1"/>
</g>
<g id="tx">
<text transform="translate(390.3,561.8) scale(1,1.06)" text-anchor="start" fill="#d2322b" stroke="#d2322b" stroke-width="0.1">Bitcoin (US$) [LHS]</text>
<text transform="translate(786.2,561.3) scale(1,1.06)" text-anchor="start" fill="#141414" stroke="#141414" stroke-width="0.1">Nasdaq (QQQ) [RHS]</text>
<text transform="translate(1149.2,42.5) scale(1,1.06)" text-anchor="start" fill="#141414" stroke="#141414" stroke-width="0.1">570</text>
<text transform="translate(1149.2,109.3) scale(1,1.06)" text-anchor="start" fill="#141414" stroke="#141414" stroke-width="0.1">520</text>
<text transform="translate(1149.2,176.1) scale(1,1.06)" text-anchor="start" fill="#141414" stroke="#141414" stroke-width="0.1">470</text>
<text transform="translate(1149.2,242.9) scale(1,1.06)" text-anchor="start" fill="#141414" stroke="#141414" stroke-width="0.1">420</text>
<text transform="translate(1149.2,309.7) scale(1,1.06)" text-anchor="start" fill="#141414" stroke="#141414" stroke-width="0.1">370</text>
<text transform="translate(1149.2,376.5) scale(1,1.06)" text-anchor="start" fill="#141414" stroke="#141414" stroke-width="0.1">320</text>
<text transform="translate(1149.2,443.3) scale(1,1.06)" text-anchor="start" fill="#141414" stroke="#141414" stroke-width="0.1">270</text>
<text transform="translate(1149.2,510.1) scale(1,1.06)" text-anchor="start" fill="#141414" stroke="#141414" stroke-width="0.1">220</text>
<text transform="translate(1149.2,576.9) scale(1,1.06)" text-anchor="start" fill="#141414" stroke="#141414" stroke-width="0.1">170</text>
<text transform="translate(1149.2,643.7) scale(1,1.06)" text-anchor="start" fill="#141414" stroke="#141414" stroke-width="0.1">120</text>
<text transform="translate(186.2,274.7) scale(1,1.06)" text-anchor="end" fill="#d2322b" stroke="#d2322b" stroke-width="0.1">40000</text>
<text transform="translate(186.4,644.2) scale(1,1.06)" text-anchor="end" fill="#d2322b" stroke="#d2322b" stroke-width="0.1">4000</text>
<text transform="translate(212.2,680.3) scale(1,1.06)" text-anchor="middle" fill="#141414" stroke="#141414" stroke-width="0.1">2020</text>
<text transform="translate(376,680.3) scale(1,1.06)" text-anchor="middle" fill="#141414" stroke="#141414" stroke-width="0.1">2021</text>
<text transform="translate(540,680.3) scale(1,1.06)" text-anchor="middle" fill="#141414" stroke="#141414" stroke-width="0.1">2022</text>
<text transform="translate(703.5,680.3) scale(1,1.06)" text-anchor="middle" fill="#141414" stroke="#141414" stroke-width="0.1">2023</text>
<text transform="translate(867.2,680.3) scale(1,1.06)" text-anchor="middle" fill="#141414" stroke="#141414" stroke-width="0.1">2024</text>
<text transform="translate(1030.7,680.3) scale(1,1.06)" text-anchor="middle" fill="#141414" stroke="#141414" stroke-width="0.1">2025</text>
</g>
</defs>
<rect width="1232" height="694" fill="#ffffff"/>
<use href="#ln" filter="url(#b)"/>
<use href="#ln" opacity="0.55"/>
<use href="#tx" filter="url(#b)" opacity="0.8"/>
<use href="#tx" opacity="0.7"/>
</svg></body></html>
